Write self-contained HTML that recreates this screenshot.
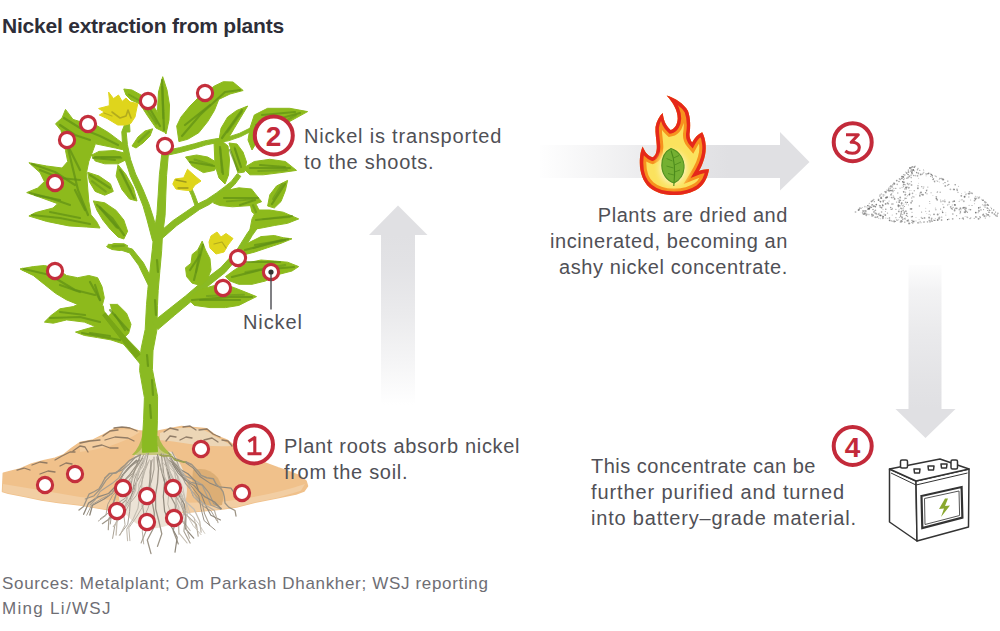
<!DOCTYPE html>
<html><head><meta charset="utf-8">
<style>
html,body{margin:0;padding:0;background:#fff;}
body{width:1000px;height:631px;position:relative;overflow:hidden;font-family:"Liberation Sans",sans-serif;}
.t{position:absolute;white-space:nowrap;color:#505056;font-size:20px;letter-spacing:0.5px;line-height:26px;}
#title{position:absolute;left:2px;top:14px;font-weight:bold;font-size:21px;letter-spacing:-0.22px;color:#2e2e38;white-space:nowrap;}
#src{position:absolute;left:2px;top:571px;font-size:17px;letter-spacing:0.6px;line-height:25px;color:#6e6e74;white-space:nowrap;}
svg{position:absolute;left:0;top:0;}
</style></head><body>
<svg width="1000" height="631" viewBox="0 0 1000 631">
<defs>
 <filter id="soft" x="-5%" y="-5%" width="110%" height="110%"><feGaussianBlur stdDeviation="0.45"/></filter>
 <linearGradient id="gup" x1="0" y1="1" x2="0" y2="0">
  <stop offset="0" stop-color="#e0e0e3" stop-opacity="0"/>
  <stop offset="0.2" stop-color="#e0e0e3" stop-opacity="0.3"/>
  <stop offset="0.45" stop-color="#e0e0e3" stop-opacity="0.65"/>
  <stop offset="0.7" stop-color="#e0e0e3" stop-opacity="0.92"/>
  <stop offset="0.85" stop-color="#e0e0e3" stop-opacity="1"/>
 </linearGradient>
 <linearGradient id="gright" x1="0" y1="0" x2="1" y2="0">
  <stop offset="0" stop-color="#e0e0e3" stop-opacity="0.03"/>
  <stop offset="0.25" stop-color="#e0e0e3" stop-opacity="0.4"/>
  <stop offset="0.5" stop-color="#e0e0e3" stop-opacity="0.8"/>
  <stop offset="0.7" stop-color="#e0e0e3" stop-opacity="1"/>
 </linearGradient>
 <linearGradient id="gdown" x1="0" y1="0" x2="0" y2="1">
  <stop offset="0" stop-color="#e0e0e3" stop-opacity="0.05"/>
  <stop offset="0.15" stop-color="#e0e0e3" stop-opacity="0.4"/>
  <stop offset="0.4" stop-color="#e0e0e3" stop-opacity="0.68"/>
  <stop offset="0.7" stop-color="#e0e0e3" stop-opacity="0.92"/>
  <stop offset="0.83" stop-color="#e0e0e3" stop-opacity="1"/>
 </linearGradient>
</defs>
<!-- up arrow -->
<path d="M381,405 L381,235 L369,235 L398,205.5 L427.5,235 L415,235 L415,405 Z" fill="url(#gup)"/>
<!-- right arrow -->
<path d="M540,145 L780,145 L780,132 L809.5,162 L780,190.5 L780,178 L540,178 Z" fill="url(#gright)"/>
<!-- down arrow -->
<path d="M908.5,265 L941.5,265 L941.5,409 L955.5,409 L925.5,438 L895.5,409 L908.5,409 Z" fill="url(#gdown)"/>

<!-- soil -->
<g id="soil" filter="url(#soft)">
<path d="M2.5,491.6 L3.3,473.3 L10,471.6 L20,469 L31.6,464 L43.3,460.8 L55,458.3 L63.3,455 L71.6,448.3 L80,442.5 L93.2,440 L103.2,435 L114.9,428.3 L126.5,427.5 L138.2,430.8 L150,432 L158.4,431 L169.9,428.8 L181.4,426.5 L192.8,427.6 L206.6,428.8 L215.8,435.7 L227.3,440.3 L240,450 L259.5,461 L277.8,467.8 L290,472 L300,476 L306,481 L307.5,486 L304,491 L296,494 L277.8,497.7 L254.9,502.3 L236.5,506.9 L220.4,509.2 L190,512 L150,514 L110,510 L80,505 L71.6,504 L58.3,502.4 L41.6,500 L25,496.6 L8.3,493.2Z" fill="#f0c18b" stroke="#f0c18b" stroke-width="1.5" stroke-linejoin="round"/>
<path d="M3,484 Q40,490 80,497 Q150,505 220,502 Q270,496 305,484 L300.8,490.8 L277.8,497.7 L254.9,502.3 L236.5,506.9 L220.4,509.2 L190,512 L150,514 L110,510 L80,505 L58.3,502.4 L41.6,500 L25,496.6 L8.3,493.2 L2.5,491.6Z" fill="#f2cea3"/>
<path d="M160,433 Q175,427 190,428 Q205,428 214,436 Q225,441 232,446 Q210,447 190,444 Q172,441 160,440Z" fill="#ecd6b6"/>
<path d="M80,444 Q100,438 115,430 Q130,428 140,432 Q128,440 110,446 Q95,450 80,452Z" fill="#f3cd9f"/>
<path d="M193,470 Q208,466 218,478 Q226,492 222,505 Q210,508 198,502 Q190,490 193,470Z" fill="#dcae74"/>
<path d="M17,470 L24,468 L30,470" fill="none" stroke="#806d5a" stroke-width="1.3" stroke-linecap="round" stroke-linejoin="round" opacity="0.85"/>
<path d="M32,465 L40,462 L47,463" fill="none" stroke="#806d5a" stroke-width="1.3" stroke-linecap="round" stroke-linejoin="round" opacity="0.85"/>
<path d="M55,460 L62,456 L70,452 L75,452" fill="none" stroke="#806d5a" stroke-width="1.3" stroke-linecap="round" stroke-linejoin="round" opacity="0.85"/>
<path d="M73,451 L80,446 L85,447 L88,452" fill="none" stroke="#806d5a" stroke-width="1.3" stroke-linecap="round" stroke-linejoin="round" opacity="0.85"/>
<path d="M80,443 L90,441 L100,440" fill="none" stroke="#806d5a" stroke-width="1.3" stroke-linecap="round" stroke-linejoin="round" opacity="0.85"/>
<path d="M93,447 L102,445 L110,448 L118,448" fill="none" stroke="#806d5a" stroke-width="1.3" stroke-linecap="round" stroke-linejoin="round" opacity="0.85"/>
<path d="M103,436 L110,431 L118,430" fill="none" stroke="#806d5a" stroke-width="1.3" stroke-linecap="round" stroke-linejoin="round" opacity="0.85"/>
<path d="M114,428 L122,427 L130,428 L137,431" fill="none" stroke="#806d5a" stroke-width="1.3" stroke-linecap="round" stroke-linejoin="round" opacity="0.85"/>
<path d="M105,440 L115,437 L128,438 L134,441" fill="none" stroke="#806d5a" stroke-width="1.3" stroke-linecap="round" stroke-linejoin="round" opacity="0.85"/>
<path d="M164,432 L170,428 L178,430" fill="none" stroke="#806d5a" stroke-width="1.3" stroke-linecap="round" stroke-linejoin="round" opacity="0.85"/>
<path d="M183,427 L190,426 L196,430" fill="none" stroke="#806d5a" stroke-width="1.3" stroke-linecap="round" stroke-linejoin="round" opacity="0.85"/>
<path d="M199,430 L207,429 L213,434 L220,437" fill="none" stroke="#806d5a" stroke-width="1.3" stroke-linecap="round" stroke-linejoin="round" opacity="0.85"/>
<path d="M166,441 L170,436 L176,437" fill="none" stroke="#806d5a" stroke-width="1.3" stroke-linecap="round" stroke-linejoin="round" opacity="0.85"/>
<path d="M180,440 L186,437 L192,438" fill="none" stroke="#806d5a" stroke-width="1.3" stroke-linecap="round" stroke-linejoin="round" opacity="0.85"/>
<path d="M204,440 L212,438 L218,442" fill="none" stroke="#806d5a" stroke-width="1.3" stroke-linecap="round" stroke-linejoin="round" opacity="0.85"/>
<path d="M222,440 L228,441 L232,446" fill="none" stroke="#806d5a" stroke-width="1.3" stroke-linecap="round" stroke-linejoin="round" opacity="0.85"/>
<path d="M40,474 L48,471 L55,472" fill="none" stroke="#806d5a" stroke-width="1.3" stroke-linecap="round" stroke-linejoin="round" opacity="0.85"/>
<path d="M60,466 L66,463 L72,464" fill="none" stroke="#806d5a" stroke-width="1.3" stroke-linecap="round" stroke-linejoin="round" opacity="0.85"/>
<path d="M138,452 Q155,448 172,452 Q186,468 187,490 Q186,510 176,522 Q160,530 146,528 Q128,522 120,505 Q116,485 124,468Z" fill="#ece3d6"/>
<path d="M142,436 L158.5,436 Q161,446 172,455 L132,455 Q140,447 142,436Z" fill="#a9bb45"/>
<path d="M134,455 L170,455 Q160,452 158,446 L143,446 Q140,452 134,455Z" fill="#c8c77e"/>
<path d="M140.6,454.6 L136.8,464.8 L129.7,474.6 L122.6,482.3 L116.8,492.1 L113.5,503.4 L112.7,516.4 L102.4,523.7" fill="none" stroke="#9c9487" stroke-width="1.2" stroke-linecap="round" stroke-linejoin="round"/>
<path d="M169.6,458.0 L175.0,466.8 L182.1,474.6 L191.4,478.6 L201.9,484.6 L206.3,494.2 L211.0,505.2 L221.0,509.1" fill="none" stroke="#a8a093" stroke-width="1.2" stroke-linecap="round" stroke-linejoin="round"/>
<path d="M139.4,459.9 L130.2,466.4 L123.0,474.9 L116.6,485.2 L108.6,493.5 L98.1,496.9 L88.6,503.1 L83.6,514.3" fill="none" stroke="#8e877b" stroke-width="1.3" stroke-linecap="round" stroke-linejoin="round"/>
<path d="M172.1,452.0 L177.4,462.4 L181.2,474.1 L185.6,483.7 L194.5,494.0 L202.1,502.7 L204.5,513.6 L209.7,525.2" fill="none" stroke="#a8a093" stroke-width="1.1" stroke-linecap="round" stroke-linejoin="round"/>
<path d="M136.5,460.2 L128.4,468.0 L122.7,474.9 L118.2,484.5 L112.1,493.2 L104.2,499.0 L92.5,505.2 L89.8,515.0" fill="none" stroke="#8e877b" stroke-width="1.3" stroke-linecap="round" stroke-linejoin="round"/>
<path d="M164.3,455.1 L169.4,467.3 L177.9,475.8 L182.9,488.1 L185.3,499.7 L190.1,513.6 L198.4,523.4 L204.8,533.4" fill="none" stroke="#c4bdb1" stroke-width="0.8" stroke-linecap="round" stroke-linejoin="round"/>
<path d="M170.7,461.3 L177.2,468.5 L183.2,477.0 L191.1,482.4 L202.7,485.1 L209.1,493.2 L213.6,503.4 L221.5,508.5" fill="none" stroke="#9c9487" stroke-width="1.1" stroke-linecap="round" stroke-linejoin="round"/>
<path d="M146.6,453.6 L140.9,465.8 L137.3,477.6 L134.1,490.6 L127.9,501.8 L119.6,513.0 L114.7,526.2 L112.6,538.4" fill="none" stroke="#a8a093" stroke-width="1.0" stroke-linecap="round" stroke-linejoin="round"/>
<path d="M142.7,458.1 L136.1,466.6 L132.4,477.3 L130.2,489.1 L126.2,499.9 L116.6,508.6 L108.9,518.3 L108.3,529.6" fill="none" stroke="#a8a093" stroke-width="1.2" stroke-linecap="round" stroke-linejoin="round"/>
<path d="M148.3,453.2 L145.6,465.5 L139.6,476.8 L133.9,486.7 L130.4,499.0 L129.6,511.6 L127.7,524.4 L119.5,535.0" fill="none" stroke="#8e877b" stroke-width="0.8" stroke-linecap="round" stroke-linejoin="round"/>
<path d="M172.3,463.7 L178.0,472.9 L185.3,480.3 L194.4,485.9 L201.1,493.9 L205.4,505.0 L210.9,515.3 L220.5,520.0" fill="none" stroke="#8e877b" stroke-width="1.1" stroke-linecap="round" stroke-linejoin="round"/>
<path d="M152.4,459.6 L149.6,471.7 L150.5,483.7 L151.7,496.2 L148.1,508.0 L143.2,519.0 L142.3,531.6 L143.7,543.9" fill="none" stroke="#a8a093" stroke-width="0.8" stroke-linecap="round" stroke-linejoin="round"/>
<path d="M147.3,462.9 L143.4,472.6 L141.8,483.6 L136.4,495.4 L129.8,503.4 L123.7,514.5 L125.1,524.9 L119.8,535.5" fill="none" stroke="#b6aea1" stroke-width="1.0" stroke-linecap="round" stroke-linejoin="round"/>
<path d="M145.8,463.4 L142.6,474.9 L138.7,484.5 L139.4,497.2 L138.0,508.1 L133.3,518.7 L126.7,529.1 L127.6,540.6" fill="none" stroke="#c4bdb1" stroke-width="1.1" stroke-linecap="round" stroke-linejoin="round"/>
<path d="M165.8,454.6 L168.2,464.9 L170.8,476.0 L177.2,487.3 L182.4,495.9 L184.2,507.7 L182.6,520.7 L190.1,530.5" fill="none" stroke="#c4bdb1" stroke-width="1.2" stroke-linecap="round" stroke-linejoin="round"/>
<path d="M173.1,461.9 L179.9,469.2 L187.9,473.7 L195.2,481.1 L198.6,490.9 L205.1,496.9 L214.6,502.0 L220.8,508.7" fill="none" stroke="#8e877b" stroke-width="1.3" stroke-linecap="round" stroke-linejoin="round"/>
<path d="M174.6,458.3 L185.1,462.2 L193.0,467.9 L200.3,476.8 L209.5,482.9 L218.5,486.7 L231.0,488.1 L237.4,497.9" fill="none" stroke="#8e877b" stroke-width="1.1" stroke-linecap="round" stroke-linejoin="round"/>
<path d="M144.6,460.2 L139.0,468.5 L134.8,478.9 L132.9,488.9 L125.6,498.0 L117.1,503.5 L111.6,513.1 L110.3,524.0" fill="none" stroke="#9c9487" stroke-width="0.9" stroke-linecap="round" stroke-linejoin="round"/>
<path d="M161.3,453.9 L162.8,466.5 L164.5,480.9 L169.0,493.3 L175.2,504.6 L175.9,518.8 L173.2,530.8 L178.3,544.0" fill="none" stroke="#9c9487" stroke-width="1.2" stroke-linecap="round" stroke-linejoin="round"/>
<path d="M149.4,459.8 L145.0,470.8 L141.7,482.5 L142.1,494.7 L142.0,507.7 L136.4,517.1 L128.8,527.9 L129.9,540.7" fill="none" stroke="#b6aea1" stroke-width="0.9" stroke-linecap="round" stroke-linejoin="round"/>
<path d="M166.0,462.9 L168.8,474.8 L172.0,485.0 L179.2,495.6 L184.4,504.2 L185.9,517.0 L185.6,528.9 L193.7,538.2" fill="none" stroke="#8e877b" stroke-width="1.2" stroke-linecap="round" stroke-linejoin="round"/>
<path d="M143.7,454.7 L139.0,464.0 L132.6,473.6 L123.8,481.3 L117.2,490.8 L113.7,501.0 L109.2,512.4 L100.4,518.7" fill="none" stroke="#9c9487" stroke-width="0.9" stroke-linecap="round" stroke-linejoin="round"/>
<path d="M157.5,454.7 L160.8,468.1 L164.6,482.3 L163.3,496.5 L164.6,511.2 L170.5,525.0 L177.2,537.2 L175.0,552.1" fill="none" stroke="#8e877b" stroke-width="1.2" stroke-linecap="round" stroke-linejoin="round"/>
<path d="M146.5,454.4 L140.0,465.5 L136.9,478.0 L135.5,490.2 L130.6,500.6 L122.0,511.1 L117.0,521.4 L116.1,535.0" fill="none" stroke="#c4bdb1" stroke-width="1.3" stroke-linecap="round" stroke-linejoin="round"/>
<path d="M162.9,454.3 L167.0,465.6 L173.0,477.9 L176.3,490.7 L176.0,503.2 L178.3,515.5 L185.6,526.2 L189.6,538.3" fill="none" stroke="#b6aea1" stroke-width="1.0" stroke-linecap="round" stroke-linejoin="round"/>
<path d="M135.1,457.3 L129.1,464.2 L121.7,470.1 L112.7,473.6 L106.2,480.2 L100.8,488.3 L94.1,495.7 L85.3,499.0" fill="none" stroke="#9c9487" stroke-width="1.2" stroke-linecap="round" stroke-linejoin="round"/>
<path d="M163.6,454.4 L166.3,466.5 L169.0,479.7 L174.1,493.2 L181.0,504.7 L185.3,516.1 L183.9,531.2 L190.1,543.1" fill="none" stroke="#a8a093" stroke-width="1.1" stroke-linecap="round" stroke-linejoin="round"/>
<path d="M140.2,458.2 L132.0,465.6 L124.4,473.1 L118.4,482.6 L111.9,493.7 L102.3,498.3 L91.7,504.8 L86.7,515.2" fill="none" stroke="#a8a093" stroke-width="1.0" stroke-linecap="round" stroke-linejoin="round"/>
<path d="M146.1,455.5 L142.5,466.8 L135.0,475.0 L128.6,484.4 L127.5,496.4 L125.2,507.3 L119.9,518.0 L113.3,526.6" fill="none" stroke="#c4bdb1" stroke-width="1.2" stroke-linecap="round" stroke-linejoin="round"/>
<path d="M154.0,457.1 L154.0,469.4 L151.3,481.9 L146.6,493.3 L142.7,506.5 L144.5,517.8 L146.1,530.8 L141.1,543.0" fill="none" stroke="#a8a093" stroke-width="1.1" stroke-linecap="round" stroke-linejoin="round"/>
<path d="M168.8,459.8 L176.9,467.4 L184.8,476.5 L189.2,485.3 L193.1,496.2 L201.7,505.2 L211.2,511.1 L216.8,520.6" fill="none" stroke="#9c9487" stroke-width="0.9" stroke-linecap="round" stroke-linejoin="round"/>
<path d="M161.4,460.6 L168.1,469.1 L173.1,479.0 L175.9,488.9 L178.9,500.7 L184.6,510.1 L194.2,517.6 L196.0,527.7" fill="none" stroke="#c4bdb1" stroke-width="1.0" stroke-linecap="round" stroke-linejoin="round"/>
<path d="M170.0,458.2 L178.3,466.1 L184.6,475.1 L189.2,485.3 L193.9,496.9 L203.9,504.0 L214.4,510.4 L218.0,522.6" fill="none" stroke="#b6aea1" stroke-width="1.2" stroke-linecap="round" stroke-linejoin="round"/>
<path d="M157.0,457.0 L158.5,468.7 L157.5,483.1 L155.5,495.2 L155.7,508.8 L158.7,520.5 L161.8,533.9 L157.5,546.4" fill="none" stroke="#9c9487" stroke-width="1.3" stroke-linecap="round" stroke-linejoin="round"/>
<path d="M158.9,461.5 L161.6,471.5 L166.4,480.8 L168.9,491.9 L167.8,504.1 L171.1,515.1 L178.1,522.9 L178.9,534.5" fill="none" stroke="#b6aea1" stroke-width="0.8" stroke-linecap="round" stroke-linejoin="round"/>
<path d="M165.4,455.0 L171.6,465.8 L177.7,476.4 L179.1,489.3 L181.7,503.2 L186.2,514.7 L196.4,524.4 L198.2,536.2" fill="none" stroke="#b6aea1" stroke-width="1.2" stroke-linecap="round" stroke-linejoin="round"/>
<path d="M151.0,460.6 L150.8,473.1 L149.1,487.2 L151.7,499.8 L154.3,513.0 L153.8,527.5 L147.3,540.0 L151.0,553.6" fill="none" stroke="#9c9487" stroke-width="1.3" stroke-linecap="round" stroke-linejoin="round"/>
<path d="M137.3,463.4 L133.7,473.1 L128.6,481.1 L119.8,488.0 L112.5,495.4 L107.7,504.5 L105.9,515.5 L98.3,521.1" fill="none" stroke="#9c9487" stroke-width="0.8" stroke-linecap="round" stroke-linejoin="round"/>
<path d="M161.7,460.9 L162.7,472.6 L167.9,484.2 L174.5,496.1 L178.9,507.1 L178.7,520.5 L178.9,532.8 L187.1,543.0" fill="none" stroke="#c4bdb1" stroke-width="1.1" stroke-linecap="round" stroke-linejoin="round"/>
<path d="M166.7,463.1 L170.6,474.8 L177.0,483.9 L183.3,493.3 L186.4,504.2 L187.5,515.9 L193.2,525.7 L201.1,534.7" fill="none" stroke="#c4bdb1" stroke-width="0.9" stroke-linecap="round" stroke-linejoin="round"/>
<path d="M168.7,452.8 L174.3,464.7 L181.6,475.7 L190.6,485.2 L198.8,496.0 L201.0,508.6 L204.1,520.6 L215.2,530.0" fill="none" stroke="#8e877b" stroke-width="0.9" stroke-linecap="round" stroke-linejoin="round"/>
<path d="M167.0,459.9 L174.0,469.5 L176.4,481.6 L178.1,491.8 L185.2,501.3 L194.1,509.3 L199.7,521.3 L201.1,532.2" fill="none" stroke="#c4bdb1" stroke-width="1.3" stroke-linecap="round" stroke-linejoin="round"/>
<path d="M160.0,455.0 L163.0,456.0 L168.2,455.7 L171.9,456.4 L174.9,459.9 L178.5,460.8 L183.1,462.1 L186.0,462.0" fill="none" stroke="#9aa04e" stroke-width="1.6" stroke-linecap="round" stroke-linejoin="round"/>
<path d="M186.0,462.0 L191.6,464.5 L194.4,467.4 L198.9,472.1 L201.1,475.4 L206.8,477.8 L213.4,478.8 L216.0,484.0" fill="none" stroke="#9c9384" stroke-width="1.5" stroke-linecap="round" stroke-linejoin="round"/>
<path d="M216.0,484.0 L220.4,487.9 L223.1,491.9 L224.4,497.2 L225.0,503.0 L228.7,507.1 L235.0,510.5 L236.0,516.0" fill="none" stroke="#9c9384" stroke-width="1.3" stroke-linecap="round" stroke-linejoin="round"/>
<path d="M140.0,455.0 L135.0,457.5 L129.7,460.3 L125.0,465.1 L120.7,468.7 L115.8,473.1 L109.4,473.6 L105.0,478.0" fill="none" stroke="#9c9384" stroke-width="1.5" stroke-linecap="round" stroke-linejoin="round"/>
<path d="M105.0,478.0 L102.1,483.6 L99.1,488.7 L94.4,491.5 L89.0,494.2 L86.2,500.6 L83.6,506.5 L79.0,510.0" fill="none" stroke="#9c9384" stroke-width="1.3" stroke-linecap="round" stroke-linejoin="round"/>
<path d="M128.0,465.0 L123.0,470.5 L118.6,478.1 L113.1,482.7 L105.2,488.0 L100.1,491.5 L95.1,499.9 L90.0,505.0" fill="none" stroke="#a8a093" stroke-width="1.1" stroke-linecap="round" stroke-linejoin="round"/>
</g>
<!-- plant -->
<g id="plant" filter="url(#soft)">
<path d="M157.5,451.7 L156.7,441.1 L157.4,420.2 L157.6,396.4 L152.4,369.5 L153.0,350.8 L156.8,330.6 L157.5,305.3 L158.2,290.4 L159.9,270.5 L161.7,250.4 L162.4,236.5 L165.1,215.4 L165.8,195.2 L166.6,175.3 L168.3,155.2 L168.0,140.0 L162.0,140.0 L161.7,154.8 L159.4,174.7 L158.2,194.8 L156.9,214.6 L153.6,235.5 L152.3,249.6 L150.1,269.5 L147.8,289.6 L146.5,304.7 L145.2,329.4 L141.0,349.2 L139.6,370.5 L144.4,397.6 L143.6,419.8 L142.3,440.9 L142.5,452.3Z" fill="#8aba22" stroke="#8aba22" stroke-width="1" stroke-linejoin="round" />
<path d="M150.0,363.4 L137.7,349.6 L126.3,337.9 L112.0,323.1 L96.5,308.3 L76.0,292.4 L45.6,276.7 L22.4,268.1 L21.6,269.9 L44.4,279.3 L74.0,295.6 L93.5,311.7 L108.0,326.9 L121.7,342.1 L132.3,354.4 L144.0,368.6Z" fill="#8aba22" stroke="#8aba22" stroke-width="1" stroke-linejoin="round" />
<path d="M153.7,282.7 L143.3,262.6 L132.4,249.1 L118.4,245.0 L108.2,244.3 L107.8,247.7 L117.6,249.0 L129.6,252.9 L138.7,265.4 L148.3,285.3Z" fill="#8aba22" stroke="#8aba22" stroke-width="1" stroke-linejoin="round" />
<path d="M159.4,239.1 L153.2,217.1 L148.9,203.9 L142.7,188.8 L135.6,174.0 L130.5,159.3 L127.4,144.7 L126.2,132.2 L128.9,124.7 L125.1,123.3 L121.8,131.8 L122.6,145.3 L125.5,160.7 L130.4,176.0 L137.3,191.2 L143.1,206.1 L146.8,218.9 L152.6,240.9Z" fill="#8aba22" stroke="#8aba22" stroke-width="1" stroke-linejoin="round" />
<path d="M162.1,238.5 L176.9,225.5 L189.7,216.5 L199.5,209.5 L209.4,204.4 L219.5,197.1 L227.6,191.0 L234.7,184.6 L240.8,176.3 L237.2,173.7 L231.3,181.4 L224.4,187.0 L216.5,192.9 L206.6,199.6 L196.5,204.5 L186.3,211.5 L173.1,220.5 L157.9,233.5Z" fill="#8aba22" stroke="#8aba22" stroke-width="1" stroke-linejoin="round" />
<path d="M198.6,205.4 L194.5,194.4 L190.4,185.4 L187.6,186.6 L191.5,195.6 L195.4,206.6Z" fill="#8aba22" stroke="#8aba22" stroke-width="1" stroke-linejoin="round" />
<path d="M166.5,155.4 L180.6,152.3 L195.6,148.2 L205.5,145.1 L215.3,143.0 L228.4,140.8 L240.7,136.6 L252.7,130.5 L258.7,127.3 L257.3,124.7 L251.3,127.5 L239.3,133.4 L227.6,137.2 L214.7,139.0 L204.5,140.9 L194.4,143.8 L179.4,147.7 L165.5,150.6Z" fill="#8aba22" stroke="#8aba22" stroke-width="1" stroke-linejoin="round" />
<path d="M157.9,329.5 L174.7,315.2 L190.5,302.0 L207.3,286.7 L225.2,272.4 L241.3,253.8 L252.2,235.5 L260.8,223.4 L267.6,214.2 L264.4,211.8 L257.2,220.6 L247.8,232.5 L236.7,250.2 L220.8,267.6 L202.7,281.3 L185.5,296.0 L169.3,308.8 L152.1,322.5Z" fill="#8aba22" stroke="#8aba22" stroke-width="1" stroke-linejoin="round" />
<path d="M65.5,109.4 L73.0,119.4 L80.0,121.6 L88.0,118.0 L97.6,126.0 L108.7,132.7 L117.6,139.4 L126.5,146.0 L124.0,150.0 L115.4,148.0 L95.4,143.8 L93.0,150.5 L88.8,161.5 L86.5,172.6 L87.7,188.0 L88.8,201.5 L91.0,214.8 L96.5,221.4 L100.0,228.0 L86.5,227.0 L68.8,225.9 L46.6,221.4 L28.9,216.0 L35.5,212.6 L53.0,208.0 L57.7,203.7 L42.0,198.0 L26.7,192.6 L37.7,188.0 L44.4,181.5 L40.0,172.6 L28.9,162.7 L46.6,166.0 L62.0,168.0 L67.7,161.5 L65.5,150.5 L63.0,139.0 L61.0,130.5 L55.5,123.8 L62.0,118.0Z" fill="#8dba1e" stroke="#8dba1e" stroke-width="1" stroke-linejoin="round" />
<path d="M123.8,89.0 L132.0,90.0 L141.0,95.0 L146.0,101.0 L140.0,104.0 L131.0,100.0 L126.0,95.0Z" fill="#8dba1e" stroke="#8dba1e" stroke-width="1" stroke-linejoin="round" />
<path d="M162.7,76.7 L167.0,90.0 L169.5,105.0 L169.0,120.0 L166.0,134.0 L160.0,126.0 L157.5,110.0 L158.5,92.0Z" fill="#8dba1e" stroke="#8dba1e" stroke-width="1" stroke-linejoin="round" />
<path d="M142.0,98.0 L152.0,104.0 L160.0,116.0 L164.0,132.0 L156.0,128.0 L147.0,115.0 L140.0,104.0Z" fill="#8dba1e" stroke="#8dba1e" stroke-width="1" stroke-linejoin="round" />
<path d="M132.0,146.0 L138.0,137.0 L145.0,131.0 L152.7,128.8 L150.0,136.0 L143.0,143.0 L136.0,148.0Z" fill="#8dba1e" stroke="#8dba1e" stroke-width="1" stroke-linejoin="round" />
<path d="M91.4,155.2 L99.0,151.4 L114.2,150.5 L125.7,153.3 L127.6,159.0 L118.0,163.8 L104.7,163.8 L95.2,161.0Z" fill="#8dba1e" stroke="#8dba1e" stroke-width="1" stroke-linejoin="round" />
<path d="M118.0,164.7 L125.7,174.2 L133.3,187.6 L137.0,201.0 L129.5,199.0 L121.9,189.5 L116.1,176.0Z" fill="#8dba1e" stroke="#8dba1e" stroke-width="1" stroke-linejoin="round" />
<path d="M87.6,172.3 L99.0,176.0 L110.4,183.8 L113.3,191.4 L104.7,195.2 L95.2,191.4 L89.5,181.9Z" fill="#8dba1e" stroke="#8dba1e" stroke-width="1" stroke-linejoin="round" />
<path d="M93.3,200.9 L104.7,202.8 L116.1,210.4 L123.8,220.0 L127.6,231.3 L123.8,239.0 L118.0,237.0 L110.4,229.4 L102.8,220.0 L97.0,210.4Z" fill="#8dba1e" stroke="#8dba1e" stroke-width="1" stroke-linejoin="round" />
<path d="M106.5,246.4 L114.0,243.5 L124.0,243.8 L128.0,246.0 L120.0,250.6 L112.0,249.5Z" fill="#8dba1e" stroke="#8dba1e" stroke-width="1" stroke-linejoin="round" />
<path d="M178.9,141.6 L176.7,126.0 L181.0,117.0 L190.0,106.0 L198.8,97.2 L205.5,92.7 L214.4,86.0 L223.3,81.7 L233.0,82.0 L243.2,90.5 L230.0,94.0 L218.8,99.4 L214.4,110.5 L207.7,121.6 L198.8,132.7 L187.7,139.3Z" fill="#8dba1e" stroke="#8dba1e" stroke-width="1" stroke-linejoin="round" />
<path d="M218.8,141.6 L221.0,128.3 L227.7,117.0 L236.6,110.5 L247.7,106.0 L241.0,117.0 L234.3,128.3 L227.7,139.3Z" fill="#8dba1e" stroke="#8dba1e" stroke-width="1" stroke-linejoin="round" />
<path d="M250.0,128.0 L254.3,115.0 L267.6,108.3 L289.8,108.3 L307.6,111.6 L296.0,118.0 L285.0,124.0 L270.0,132.0 L258.0,140.0 L252.0,150.0 L248.0,140.0Z" fill="#8dba1e" stroke="#8dba1e" stroke-width="1" stroke-linejoin="round" />
<path d="M214.0,141.6 L222.0,141.0 L228.0,146.0 L229.5,160.0 L228.5,175.0 L225.0,184.0 L219.0,178.0 L215.0,165.0Z" fill="#8dba1e" stroke="#8dba1e" stroke-width="1" stroke-linejoin="round" />
<path d="M229.0,143.0 L237.0,144.0 L243.0,152.0 L246.5,162.0 L244.5,172.0 L238.0,173.0 L234.0,160.0Z" fill="#8dba1e" stroke="#8dba1e" stroke-width="1" stroke-linejoin="round" />
<path d="M185.5,157.0 L196.6,155.0 L207.7,157.0 L218.8,163.7 L214.4,170.4 L203.3,172.6 L192.2,166.0Z" fill="#8dba1e" stroke="#8dba1e" stroke-width="1" stroke-linejoin="round" />
<path d="M243.2,168.2 L254.3,161.5 L269.8,159.3 L285.4,161.5 L296.5,170.4 L281.0,172.6 L263.2,174.8 L249.9,174.8Z" fill="#8dba1e" stroke="#8dba1e" stroke-width="1" stroke-linejoin="round" />
<path d="M213.4,203.0 L221.0,191.6 L238.8,187.8 L251.5,189.0 L261.6,201.7 L251.5,205.5 L232.5,206.8 L219.8,205.5Z" fill="#8dba1e" stroke="#8dba1e" stroke-width="1" stroke-linejoin="round" />
<path d="M267.6,206.0 L269.8,194.8 L276.5,186.0 L287.6,180.4 L285.4,190.4 L281.0,201.5 L274.3,208.0Z" fill="#8dba1e" stroke="#8dba1e" stroke-width="1" stroke-linejoin="round" />
<path d="M250.0,203.7 L256.0,204.0 L259.0,210.0 L257.0,216.0 L252.0,212.0Z" fill="#8dba1e" stroke="#8dba1e" stroke-width="1" stroke-linejoin="round" />
<path d="M249.9,230.0 L252.0,218.9 L256.5,210.0 L269.8,210.0 L283.2,212.2 L298.7,218.9 L287.6,223.3 L274.3,225.5 L263.2,227.7Z" fill="#8dba1e" stroke="#8dba1e" stroke-width="1" stroke-linejoin="round" />
<path d="M238.8,252.2 L247.6,243.3 L261.0,236.6 L274.3,235.5 L283.2,237.7 L292.0,238.8 L281.0,243.3 L267.6,247.7 L254.3,252.2 L245.4,254.4Z" fill="#8dba1e" stroke="#8dba1e" stroke-width="1" stroke-linejoin="round" />
<path d="M225.5,276.6 L234.3,270.0 L245.4,263.3 L261.0,260.0 L274.3,261.0 L287.6,262.2 L298.7,266.6 L292.0,271.0 L278.7,274.4 L265.4,281.0 L252.0,284.3 L238.8,284.3 L230.0,281.0Z" fill="#8dba1e" stroke="#8dba1e" stroke-width="1" stroke-linejoin="round" />
<path d="M187.7,298.8 L198.8,289.9 L214.4,285.5 L224.0,284.0 L234.3,287.7 L245.4,292.1 L256.5,296.6 L247.6,301.0 L238.8,305.4 L225.5,307.6 L210.0,307.6 L194.4,305.4Z" fill="#8dba1e" stroke="#8dba1e" stroke-width="1" stroke-linejoin="round" />
<path d="M186.6,276.6 L185.5,267.7 L191.0,263.3 L192.2,254.4 L197.7,250.0 L202.2,241.1 L205.5,250.0 L210.0,258.8 L211.0,270.0 L207.7,278.8 L201.0,285.5 L192.2,283.2Z" fill="#8dba1e" stroke="#8dba1e" stroke-width="1" stroke-linejoin="round" />
<path d="M20.0,268.9 L33.3,266.6 L44.4,265.5 L55.5,268.0 L66.6,275.5 L77.7,277.7 L88.8,275.5 L97.6,277.7 L102.0,286.6 L104.3,297.7 L102.0,306.6 L108.7,304.4 L117.6,304.4 L126.5,313.2 L131.0,324.3 L128.7,333.2 L124.3,337.6 L124.3,344.3 L111.0,339.9 L97.6,337.6 L84.3,335.4 L75.5,332.1 L86.6,328.8 L95.4,326.5 L84.3,322.1 L66.6,319.9 L53.3,323.2 L44.4,322.1 L51.0,315.5 L60.0,308.8 L73.2,306.6 L77.7,304.4 L66.6,299.9 L55.5,293.3 L44.4,284.4 L33.3,275.5Z" fill="#8dba1e" stroke="#8dba1e" stroke-width="1" stroke-linejoin="round" />
<path d="M103.5,304 L109.5,303.5 L112,312 L108,316 L104.5,311Z" fill="#fff"/>
<path d="M102.6,315.1 L110.4,325.2 L118.2,335.4 L126.1,345.6 L135.9,357.8 L140.1,354.2 L129.9,342.4 L121.8,332.6 L113.6,322.8 L105.4,312.9Z" fill="#78a619" stroke="#78a619" stroke-width="1" stroke-linejoin="round" />
<path d="M140.7,101.2 L128.8,94.5" fill="none" stroke="#5f9016" stroke-width="1.9595430399761427" stroke-linecap="round" stroke-linejoin="round" opacity="0.5"/>
<path d="M162.3,87.0 L163.3,118.0" fill="none" stroke="#5f9016" stroke-width="2.3190306964509446" stroke-linecap="round" stroke-linejoin="round" opacity="0.5"/>
<path d="M144.3,105.2 L156.3,123.5" fill="none" stroke="#5f9016" stroke-width="2.138761739100935" stroke-linecap="round" stroke-linejoin="round" opacity="0.5"/>
<path d="M148.9,131.8 L138.5,141.9" fill="none" stroke="#5f9016" stroke-width="2.330451707142214" stroke-linecap="round" stroke-linejoin="round" opacity="0.5"/>
<path d="M121.1,157.9 L101.5,157.8" fill="none" stroke="#5f9016" stroke-width="2.4823875115186342" stroke-linecap="round" stroke-linejoin="round" opacity="0.5"/>
<path d="M121.4,171.2 L131.3,191.0" fill="none" stroke="#5f9016" stroke-width="1.6374830331124643" stroke-linecap="round" stroke-linejoin="round" opacity="0.5"/>
<path d="M105.8,191.7 L92.0,181.2" fill="none" stroke="#5f9016" stroke-width="2.099074767386168" stroke-linecap="round" stroke-linejoin="round" opacity="0.5"/>
<path d="M99.8,206.9 L116.6,227.2" fill="none" stroke="#5f9016" stroke-width="2.3144070008084854" stroke-linecap="round" stroke-linejoin="round" opacity="0.5"/>
<path d="M124.1,245.6 L112.5,246.4" fill="none" stroke="#5f9016" stroke-width="2.071049843927539" stroke-linecap="round" stroke-linejoin="round" opacity="0.5"/>
<path d="M241.7,111.8 L227.4,132.0" fill="none" stroke="#5f9016" stroke-width="2.2038507703691885" stroke-linecap="round" stroke-linejoin="round" opacity="0.5"/>
<path d="M295.8,115.3 L264.1,133.0" fill="none" stroke="#5f9016" stroke-width="2.2097559075697477" stroke-linecap="round" stroke-linejoin="round" opacity="0.5"/>
<path d="M220.1,148.9 L221.9,172.1" fill="none" stroke="#5f9016" stroke-width="2.103708484840346" stroke-linecap="round" stroke-linejoin="round" opacity="0.5"/>
<path d="M234.5,147.4 L239.8,164.0" fill="none" stroke="#5f9016" stroke-width="1.7424388417072665" stroke-linecap="round" stroke-linejoin="round" opacity="0.5"/>
<path d="M212.0,165.0 L194.6,159.6" fill="none" stroke="#5f9016" stroke-width="2.2287403389692266" stroke-linecap="round" stroke-linejoin="round" opacity="0.5"/>
<path d="M286.9,170.0 L258.2,170.9" fill="none" stroke="#5f9016" stroke-width="2.022507315419912" stroke-linecap="round" stroke-linejoin="round" opacity="0.5"/>
<path d="M252.7,199.4 L226.8,201.3" fill="none" stroke="#5f9016" stroke-width="1.8307068282403143" stroke-linecap="round" stroke-linejoin="round" opacity="0.5"/>
<path d="M282.4,184.0 L273.3,198.9" fill="none" stroke="#5f9016" stroke-width="2.4176604022196404" stroke-linecap="round" stroke-linejoin="round" opacity="0.5"/>
<path d="M253.0,205.2 L256.0,212.1" fill="none" stroke="#5f9016" stroke-width="2.151797118235894" stroke-linecap="round" stroke-linejoin="round" opacity="0.5"/>
<path d="M289.6,217.2 L263.0,219.3" fill="none" stroke="#5f9016" stroke-width="1.6285714108633718" stroke-linecap="round" stroke-linejoin="round" opacity="0.5"/>
<path d="M282.0,239.7 L253.6,248.1" fill="none" stroke="#5f9016" stroke-width="2.0601639079857224" stroke-linecap="round" stroke-linejoin="round" opacity="0.5"/>
<path d="M284.9,265.1 L245.7,272.2" fill="none" stroke="#5f9016" stroke-width="2.480538628041746" stroke-linecap="round" stroke-linejoin="round" opacity="0.5"/>
<path d="M244.0,294.7 L206.9,295.9" fill="none" stroke="#5f9016" stroke-width="1.9618002378007615" stroke-linecap="round" stroke-linejoin="round" opacity="0.5"/>
<path d="M199.6,248.7 L196.0,272.2" fill="none" stroke="#5f9016" stroke-width="1.9776110853728142" stroke-linecap="round" stroke-linejoin="round" opacity="0.5"/>
<path d="M64.0,118.0 L80.0,128.0 L100.0,136.0 L118.0,145.0" fill="none" stroke="#5f9016" stroke-width="2.2" stroke-linecap="round" stroke-linejoin="round" opacity="0.7"/>
<path d="M66.0,140.0 L72.0,165.0 L78.0,190.0 L88.0,215.0" fill="none" stroke="#5f9016" stroke-width="2.2" stroke-linecap="round" stroke-linejoin="round" opacity="0.7"/>
<path d="M32.0,164.0 L55.0,172.0 L75.0,185.0" fill="none" stroke="#5f9016" stroke-width="2.2" stroke-linecap="round" stroke-linejoin="round" opacity="0.7"/>
<path d="M30.0,193.0 L50.0,198.0 L70.0,205.0" fill="none" stroke="#5f9016" stroke-width="2.2" stroke-linecap="round" stroke-linejoin="round" opacity="0.7"/>
<path d="M32.0,215.0 L60.0,218.0 L90.0,224.0" fill="none" stroke="#5f9016" stroke-width="2.2" stroke-linecap="round" stroke-linejoin="round" opacity="0.7"/>
<path d="M95.0,157.0 L120.0,157.0" fill="none" stroke="#5f9016" stroke-width="2.2" stroke-linecap="round" stroke-linejoin="round" opacity="0.7"/>
<path d="M90.0,175.0 L110.0,188.0" fill="none" stroke="#5f9016" stroke-width="2.2" stroke-linecap="round" stroke-linejoin="round" opacity="0.7"/>
<path d="M97.0,205.0 L112.0,218.0 L124.0,235.0" fill="none" stroke="#5f9016" stroke-width="2.2" stroke-linecap="round" stroke-linejoin="round" opacity="0.7"/>
<path d="M120.0,170.0 L134.0,198.0" fill="none" stroke="#5f9016" stroke-width="2.2" stroke-linecap="round" stroke-linejoin="round" opacity="0.7"/>
<path d="M162.0,80.0 L164.0,130.0" fill="none" stroke="#5f9016" stroke-width="2.2" stroke-linecap="round" stroke-linejoin="round" opacity="0.7"/>
<path d="M146.0,102.0 L160.0,126.0" fill="none" stroke="#5f9016" stroke-width="2.2" stroke-linecap="round" stroke-linejoin="round" opacity="0.7"/>
<path d="M182.0,136.0 L200.0,115.0 L225.0,92.0 L240.0,90.0" fill="none" stroke="#5f9016" stroke-width="2.2" stroke-linecap="round" stroke-linejoin="round" opacity="0.7"/>
<path d="M222.0,138.0 L242.0,110.0" fill="none" stroke="#5f9016" stroke-width="2.2" stroke-linecap="round" stroke-linejoin="round" opacity="0.7"/>
<path d="M220.0,147.0 L223.0,174.0" fill="none" stroke="#5f9016" stroke-width="2.2" stroke-linecap="round" stroke-linejoin="round" opacity="0.7"/>
<path d="M235.0,149.0 L241.0,167.0" fill="none" stroke="#5f9016" stroke-width="2.2" stroke-linecap="round" stroke-linejoin="round" opacity="0.7"/>
<path d="M190.0,162.0 L214.0,166.0" fill="none" stroke="#5f9016" stroke-width="2.2" stroke-linecap="round" stroke-linejoin="round" opacity="0.7"/>
<path d="M250.0,168.0 L290.0,168.0" fill="none" stroke="#5f9016" stroke-width="2.2" stroke-linecap="round" stroke-linejoin="round" opacity="0.7"/>
<path d="M224.0,198.0 L258.0,198.0" fill="none" stroke="#5f9016" stroke-width="2.2" stroke-linecap="round" stroke-linejoin="round" opacity="0.7"/>
<path d="M272.0,204.0 L285.0,184.0" fill="none" stroke="#5f9016" stroke-width="2.2" stroke-linecap="round" stroke-linejoin="round" opacity="0.7"/>
<path d="M256.0,220.0 L292.0,216.0" fill="none" stroke="#5f9016" stroke-width="2.2" stroke-linecap="round" stroke-linejoin="round" opacity="0.7"/>
<path d="M245.0,250.0 L288.0,239.0" fill="none" stroke="#5f9016" stroke-width="2.2" stroke-linecap="round" stroke-linejoin="round" opacity="0.7"/>
<path d="M232.0,277.0 L260.0,270.0 L294.0,267.0" fill="none" stroke="#5f9016" stroke-width="2.2" stroke-linecap="round" stroke-linejoin="round" opacity="0.7"/>
<path d="M192.0,300.0 L230.0,297.0 L252.0,297.0" fill="none" stroke="#5f9016" stroke-width="2.2" stroke-linecap="round" stroke-linejoin="round" opacity="0.7"/>
<path d="M194.0,280.0 L203.0,245.0" fill="none" stroke="#5f9016" stroke-width="2.2" stroke-linecap="round" stroke-linejoin="round" opacity="0.7"/>
<path d="M24.0,269.0 L50.0,275.0 L75.0,290.0 L95.0,295.0" fill="none" stroke="#5f9016" stroke-width="2.2" stroke-linecap="round" stroke-linejoin="round" opacity="0.7"/>
<path d="M50.0,318.0 L80.0,317.0 L100.0,322.0" fill="none" stroke="#5f9016" stroke-width="2.2" stroke-linecap="round" stroke-linejoin="round" opacity="0.7"/>
<path d="M82.0,333.0 L120.0,340.0" fill="none" stroke="#5f9016" stroke-width="2.2" stroke-linecap="round" stroke-linejoin="round" opacity="0.7"/>
<path d="M110.0,310.0 L128.0,330.0" fill="none" stroke="#5f9016" stroke-width="2.2" stroke-linecap="round" stroke-linejoin="round" opacity="0.7"/>
<path d="M90.0,282.0 L100.0,300.0" fill="none" stroke="#5f9016" stroke-width="2.2" stroke-linecap="round" stroke-linejoin="round" opacity="0.7"/>
<path d="M256.0,125.0 L300.0,113.0" fill="none" stroke="#5f9016" stroke-width="2.2" stroke-linecap="round" stroke-linejoin="round" opacity="0.7"/>
<path d="M60.0,125.0 L75.0,135.0 L90.0,140.0" fill="none" stroke="#5f9016" stroke-width="2.2" stroke-linecap="round" stroke-linejoin="round" opacity="0.7"/>
<path d="M70.0,150.0 L80.0,170.0" fill="none" stroke="#5f9016" stroke-width="2.2" stroke-linecap="round" stroke-linejoin="round" opacity="0.7"/>
<path d="M40.0,170.0 L60.0,178.0 L80.0,180.0" fill="none" stroke="#5f9016" stroke-width="2.2" stroke-linecap="round" stroke-linejoin="round" opacity="0.7"/>
<path d="M35.0,195.0 L60.0,200.0" fill="none" stroke="#5f9016" stroke-width="2.2" stroke-linecap="round" stroke-linejoin="round" opacity="0.7"/>
<path d="M50.0,212.0 L80.0,218.0" fill="none" stroke="#5f9016" stroke-width="2.2" stroke-linecap="round" stroke-linejoin="round" opacity="0.7"/>
<path d="M75.0,190.0 L85.0,210.0" fill="none" stroke="#5f9016" stroke-width="2.2" stroke-linecap="round" stroke-linejoin="round" opacity="0.7"/>
<path d="M60.0,285.0 L80.0,292.0" fill="none" stroke="#5f9016" stroke-width="2.2" stroke-linecap="round" stroke-linejoin="round" opacity="0.7"/>
<path d="M95.0,285.0 L100.0,300.0" fill="none" stroke="#5f9016" stroke-width="2.2" stroke-linecap="round" stroke-linejoin="round" opacity="0.7"/>
<path d="M60.0,312.0 L85.0,315.0" fill="none" stroke="#5f9016" stroke-width="2.2" stroke-linecap="round" stroke-linejoin="round" opacity="0.7"/>
<path d="M115.0,315.0 L125.0,330.0" fill="none" stroke="#5f9016" stroke-width="2.2" stroke-linecap="round" stroke-linejoin="round" opacity="0.7"/>
<path d="M90.0,333.0 L110.0,336.0" fill="none" stroke="#5f9016" stroke-width="2.2" stroke-linecap="round" stroke-linejoin="round" opacity="0.7"/>
<path d="M185.0,125.0 L210.0,105.0" fill="none" stroke="#5f9016" stroke-width="2.2" stroke-linecap="round" stroke-linejoin="round" opacity="0.7"/>
<path d="M230.0,150.0 L238.0,170.0" fill="none" stroke="#5f9016" stroke-width="2.2" stroke-linecap="round" stroke-linejoin="round" opacity="0.7"/>
<path d="M260.0,165.0 L285.0,167.0" fill="none" stroke="#5f9016" stroke-width="2.2" stroke-linecap="round" stroke-linejoin="round" opacity="0.7"/>
<path d="M240.0,205.0 L255.0,200.0" fill="none" stroke="#5f9016" stroke-width="2.2" stroke-linecap="round" stroke-linejoin="round" opacity="0.7"/>
<path d="M240.0,262.0 L280.0,262.0" fill="none" stroke="#5f9016" stroke-width="2.2" stroke-linecap="round" stroke-linejoin="round" opacity="0.7"/>
<path d="M200.0,300.0 L240.0,300.0" fill="none" stroke="#5f9016" stroke-width="2.2" stroke-linecap="round" stroke-linejoin="round" opacity="0.7"/>
<path d="M255.0,245.0 L285.0,240.0" fill="none" stroke="#5f9016" stroke-width="2.2" stroke-linecap="round" stroke-linejoin="round" opacity="0.7"/>
<path d="M190.0,270.0 L200.0,255.0" fill="none" stroke="#5f9016" stroke-width="2.2" stroke-linecap="round" stroke-linejoin="round" opacity="0.7"/>
<path d="M100.0,208.0 L118.0,228.0" fill="none" stroke="#5f9016" stroke-width="2.2" stroke-linecap="round" stroke-linejoin="round" opacity="0.7"/>
<path d="M93.0,158.0 L115.0,160.0" fill="none" stroke="#5f9016" stroke-width="2.2" stroke-linecap="round" stroke-linejoin="round" opacity="0.7"/>
<path d="M262.0,115.0 L295.0,112.0" fill="none" stroke="#5f9016" stroke-width="2.2" stroke-linecap="round" stroke-linejoin="round" opacity="0.7"/>
<path d="M152.0,380.0 L153.0,395.0" fill="none" stroke="#5f9016" stroke-width="2.2" stroke-linecap="round" stroke-linejoin="round" opacity="0.7"/>
<path d="M150.0,405.0 L151.0,418.0" fill="none" stroke="#5f9016" stroke-width="2.2" stroke-linecap="round" stroke-linejoin="round" opacity="0.7"/>
<path d="M155.0,300.0 L156.0,315.0" fill="none" stroke="#5f9016" stroke-width="2.2" stroke-linecap="round" stroke-linejoin="round" opacity="0.7"/>
<path d="M157.0,260.0 L158.0,272.0" fill="none" stroke="#5f9016" stroke-width="2.2" stroke-linecap="round" stroke-linejoin="round" opacity="0.7"/>
<path d="M147.0,355.0 L148.0,366.0" fill="none" stroke="#5f9016" stroke-width="2.2" stroke-linecap="round" stroke-linejoin="round" opacity="0.7"/>
<path d="M130.0,131.9 L129.5,123.9 L125.5,124.1 L126.0,132.1Z" fill="#8aba22" stroke="#8aba22" stroke-width="1" stroke-linejoin="round" />
<path d="M108.6,92.1 L113.5,98.6 L118.5,95.0 L122.1,101.4 L126.0,98.0 L130.0,102.0 L137.8,103.5 L136.4,110.0 L135.0,117.0 L130.7,123.5 L125.0,125.0 L117.8,125.0 L112.8,122.0 L107.1,118.5 L99.3,115.0 L104.3,112.0 L98.6,108.5 L109.3,105.7 L109.3,99.3Z" fill="#dfd51b" stroke="#dfd51b" stroke-width="1" stroke-linejoin="round" />
<path d="M112.0,112.0 L120.0,118.0 L126.0,116.0 L128.0,110.0 L131.0,118.0" fill="none" stroke="#a8a01c" stroke-width="1.6" stroke-linecap="round" stroke-linejoin="round" opacity="0.8"/>
<path d="M104.0,113.0 L112.0,116.0" fill="none" stroke="#a8a01c" stroke-width="1.2" stroke-linecap="round" stroke-linejoin="round" opacity="0.7"/>
<path d="M187.5,169.3 L195.0,176.0 L201.0,181.0 L195.0,185.0 L191.0,190.7 L183.0,190.0 L176.0,189.0 L172.8,184.0 L175.0,179.0 L183.7,177.8Z" fill="#dfd51b" stroke="#dfd51b" stroke-width="1" stroke-linejoin="round" />
<path d="M176.0,180.0 L186.0,182.0" fill="none" stroke="#8f8a20" stroke-width="1.3" stroke-linecap="round" stroke-linejoin="round" opacity="0.8"/>
<path d="M178.0,188.0 L188.0,188.0" fill="none" stroke="#8f8a20" stroke-width="1.3" stroke-linecap="round" stroke-linejoin="round" opacity="0.8"/>
<path d="M211.0,236.0 L217.0,232.0 L221.0,237.0 L226.0,233.5 L233.0,238.5 L228.0,245.0 L224.0,252.0 L216.0,254.0 L210.0,248.0 L209.0,242.0Z" fill="#dfd51b" stroke="#dfd51b" stroke-width="1" stroke-linejoin="round" />
<path d="M214.0,244.0 L222.0,242.0 L226.0,248.0" fill="none" stroke="#a8a01c" stroke-width="1.2" stroke-linecap="round" stroke-linejoin="round" opacity="0.8"/>
</g>
<!-- nickel dots -->
<g fill="#fff" stroke="#c42f3c" stroke-width="3.1">
<circle cx="148" cy="101" r="7.6"/>
<circle cx="205" cy="93" r="7.6"/>
<circle cx="88" cy="124" r="7.6"/>
<circle cx="67" cy="140" r="7.6"/>
<circle cx="165" cy="146" r="7.6"/>
<circle cx="55" cy="183" r="7.6"/>
<circle cx="55" cy="271" r="7.6"/>
<circle cx="238" cy="258" r="7.6"/>
<circle cx="223" cy="288" r="7.6"/>
<circle cx="271" cy="272" r="7.6"/>
<circle cx="45" cy="485" r="7.6"/>
<circle cx="75" cy="474" r="7.6"/>
<circle cx="201" cy="449" r="7.6"/>
<circle cx="123" cy="488" r="7.6"/>
<circle cx="147" cy="496" r="7.6"/>
<circle cx="173" cy="488" r="7.6"/>
<circle cx="117" cy="511" r="7.6"/>
<circle cx="147" cy="522" r="7.6"/>
<circle cx="174" cy="518" r="7.6"/>
<circle cx="242" cy="493" r="7.6"/>
</g>
<!-- callout -->
<line x1="271" y1="272" x2="271" y2="309.5" stroke="#4a4a50" stroke-width="1.4"/>
<circle cx="271" cy="272" r="2.6" fill="#333"/>

<!-- flame -->
<defs><clipPath id="fc"><path d="M666.6,95.6 C675,98 684,104 688,111 C690.5,118 690.7,127 689.5,134 C689.3,137 690.5,140.5 692.1,142.4 C694.5,138 698,134 702.2,132.3 C706,139 707,150 704.2,158.5 C703,163 701,167.5 698.9,171 C702,169.8 705.5,169 709,169.3 C708,177 704.5,184 698.5,188.5 C691,193.5 682,195.2 673.7,195.1 C664,195 655.5,192.5 649.5,187.5 C643,182 639.8,172 639.8,163 C639.8,155 641,150 642.7,146.5 C644.5,151 647,155.5 652.5,157.3 C655.5,156 657,152 656.8,146 C656.5,139 655,133 655.5,127 C656.5,121 659.5,116 662.7,113 C663.5,119 665,125 670.6,130 C675,129 677.5,124 677.7,118.5 C677.7,111 673.5,103 666.6,95.6 Z"/></clipPath><radialGradient id="fg" cx="0.5" cy="0.5" r="0.5"><stop offset="0" stop-color="#fbf5c0"/><stop offset="0.6" stop-color="#fbefa0"/><stop offset="1" stop-color="#fbe463" stop-opacity="0"/></radialGradient></defs>
<g clip-path="url(#fc)">
<path d="M666.6,95.6 C675,98 684,104 688,111 C690.5,118 690.7,127 689.5,134 C689.3,137 690.5,140.5 692.1,142.4 C694.5,138 698,134 702.2,132.3 C706,139 707,150 704.2,158.5 C703,163 701,167.5 698.9,171 C702,169.8 705.5,169 709,169.3 C708,177 704.5,184 698.5,188.5 C691,193.5 682,195.2 673.7,195.1 C664,195 655.5,192.5 649.5,187.5 C643,182 639.8,172 639.8,163 C639.8,155 641,150 642.7,146.5 C644.5,151 647,155.5 652.5,157.3 C655.5,156 657,152 656.8,146 C656.5,139 655,133 655.5,127 C656.5,121 659.5,116 662.7,113 C663.5,119 665,125 670.6,130 C675,129 677.5,124 677.7,118.5 C677.7,111 673.5,103 666.6,95.6 Z" fill="#fbe25e" stroke="#f7921e" stroke-width="13"/>
<path d="M666.6,95.6 C675,98 684,104 688,111 C690.5,118 690.7,127 689.5,134 C689.3,137 690.5,140.5 692.1,142.4 C694.5,138 698,134 702.2,132.3 C706,139 707,150 704.2,158.5 C703,163 701,167.5 698.9,171 C702,169.8 705.5,169 709,169.3 C708,177 704.5,184 698.5,188.5 C691,193.5 682,195.2 673.7,195.1 C664,195 655.5,192.5 649.5,187.5 C643,182 639.8,172 639.8,163 C639.8,155 641,150 642.7,146.5 C644.5,151 647,155.5 652.5,157.3 C655.5,156 657,152 656.8,146 C656.5,139 655,133 655.5,127 C656.5,121 659.5,116 662.7,113 C663.5,119 665,125 670.6,130 C675,129 677.5,124 677.7,118.5 C677.7,111 673.5,103 666.6,95.6 Z" fill="none" stroke="#e5281b" stroke-width="7"/>
<ellipse cx="673" cy="168" rx="20" ry="23" fill="url(#fg)"/>
</g>
<path d="M671,148.5 C679,151 684.5,159 684,168 C683.5,175 679,180.5 674,183 C667,181 662,174 661.8,165.5 C661.8,157 665,151.5 671,148.5Z" fill="#74b032" stroke="#51901f" stroke-width="1.1"/>
<path d="M671,150.5 C674.5,159 675.5,171 673.8,186" stroke="#4b8a1c" stroke-width="1.1" fill="none"/>
<path d="M673.5,158 L679,155.5 M674.5,165 L681,162 M674.5,172 L680,170 M672.5,161 L666.5,158.5 M673.5,168 L666.5,166 M674,175 L668,173.5" stroke="#4b8a1c" stroke-width="0.8" fill="none"/>
<!-- ash -->
<g id="ash">
<circle cx="987.5" cy="210.5" r="0.52" fill="#5e5e5e" opacity="0.73"/>
<circle cx="894.8" cy="183.8" r="0.58" fill="#676767" opacity="0.60"/>
<circle cx="903.6" cy="186.7" r="0.63" fill="#8a8a8a" opacity="0.71"/>
<circle cx="901.0" cy="221.0" r="0.79" fill="#7c7c7c" opacity="0.59"/>
<circle cx="887.5" cy="203.0" r="0.85" fill="#595959" opacity="0.60"/>
<circle cx="866.9" cy="214.3" r="0.76" fill="#6b6b6b" opacity="0.67"/>
<circle cx="904.2" cy="211.9" r="0.78" fill="#a0a0a0" opacity="0.79"/>
<circle cx="904.5" cy="206.5" r="0.58" fill="#939393" opacity="0.89"/>
<circle cx="904.6" cy="182.1" r="0.55" fill="#6a6a6a" opacity="0.61"/>
<circle cx="927.5" cy="221.8" r="0.84" fill="#9b9b9b" opacity="0.74"/>
<circle cx="952.9" cy="201.6" r="0.94" fill="#919191" opacity="0.52"/>
<circle cx="880.7" cy="207.4" r="0.65" fill="#818181" opacity="0.58"/>
<circle cx="911.5" cy="167.6" r="0.93" fill="#848484" opacity="0.70"/>
<circle cx="894.0" cy="183.2" r="0.86" fill="#898989" opacity="0.74"/>
<circle cx="902.7" cy="219.0" r="0.61" fill="#626262" opacity="0.86"/>
<circle cx="907.6" cy="216.4" r="0.58" fill="#a1a1a1" opacity="0.89"/>
<circle cx="893.0" cy="191.5" r="0.93" fill="#a4a4a4" opacity="0.56"/>
<circle cx="886.5" cy="191.3" r="0.58" fill="#939393" opacity="0.52"/>
<circle cx="940.6" cy="209.1" r="0.60" fill="#656565" opacity="0.69"/>
<circle cx="900.4" cy="179.6" r="0.62" fill="#909090" opacity="0.76"/>
<circle cx="900.0" cy="188.3" r="0.80" fill="#888888" opacity="0.47"/>
<circle cx="893.9" cy="220.6" r="0.54" fill="#a3a3a3" opacity="0.81"/>
<circle cx="892.0" cy="197.7" r="0.89" fill="#888888" opacity="0.51"/>
<circle cx="923.4" cy="221.9" r="0.52" fill="#5c5c5c" opacity="0.58"/>
<circle cx="885.3" cy="215.0" r="0.85" fill="#666666" opacity="0.84"/>
<circle cx="918.0" cy="185.7" r="0.78" fill="#575757" opacity="0.49"/>
<circle cx="885.8" cy="217.9" r="0.50" fill="#7e7e7e" opacity="0.69"/>
<circle cx="969.2" cy="209.5" r="0.86" fill="#939393" opacity="0.51"/>
<circle cx="900.0" cy="200.5" r="0.64" fill="#868686" opacity="0.78"/>
<circle cx="903.7" cy="179.5" r="0.71" fill="#838383" opacity="0.72"/>
<circle cx="914.3" cy="190.7" r="0.78" fill="#686868" opacity="0.48"/>
<circle cx="980.4" cy="217.3" r="0.58" fill="#9b9b9b" opacity="0.57"/>
<circle cx="885.3" cy="191.8" r="0.61" fill="#848484" opacity="0.48"/>
<circle cx="990.9" cy="207.3" r="0.50" fill="#939393" opacity="0.66"/>
<circle cx="989.0" cy="212.2" r="0.75" fill="#696969" opacity="0.84"/>
<circle cx="936.5" cy="176.2" r="0.47" fill="#747474" opacity="0.54"/>
<circle cx="892.9" cy="184.7" r="0.83" fill="#8a8a8a" opacity="0.62"/>
<circle cx="934.3" cy="181.2" r="0.58" fill="#666666" opacity="0.75"/>
<circle cx="964.6" cy="196.8" r="0.93" fill="#5b5b5b" opacity="0.82"/>
<circle cx="940.9" cy="201.6" r="0.85" fill="#8c8c8c" opacity="0.50"/>
<circle cx="897.6" cy="220.4" r="0.54" fill="#8c8c8c" opacity="0.47"/>
<circle cx="921.0" cy="192.4" r="0.86" fill="#656565" opacity="0.64"/>
<circle cx="922.3" cy="218.2" r="0.55" fill="#707070" opacity="0.82"/>
<circle cx="901.3" cy="211.9" r="0.79" fill="#555555" opacity="0.62"/>
<circle cx="911.1" cy="175.2" r="0.90" fill="#a1a1a1" opacity="0.59"/>
<circle cx="878.5" cy="199.2" r="0.81" fill="#7f7f7f" opacity="0.48"/>
<circle cx="872.8" cy="200.6" r="0.82" fill="#8d8d8d" opacity="0.82"/>
<circle cx="964.0" cy="207.6" r="0.85" fill="#636363" opacity="0.90"/>
<circle cx="985.9" cy="202.4" r="0.74" fill="#606060" opacity="0.58"/>
<circle cx="900.5" cy="216.0" r="0.56" fill="#5b5b5b" opacity="0.89"/>
<circle cx="890.7" cy="207.5" r="0.73" fill="#616161" opacity="0.64"/>
<circle cx="886.8" cy="189.9" r="0.45" fill="#5f5f5f" opacity="0.79"/>
<circle cx="887.6" cy="190.2" r="0.49" fill="#979797" opacity="0.89"/>
<circle cx="879.1" cy="213.0" r="0.49" fill="#979797" opacity="0.58"/>
<circle cx="939.0" cy="219.6" r="0.47" fill="#a0a0a0" opacity="0.46"/>
<circle cx="963.4" cy="218.9" r="0.66" fill="#6d6d6d" opacity="0.89"/>
<circle cx="893.0" cy="204.0" r="0.83" fill="#6a6a6a" opacity="0.48"/>
<circle cx="911.4" cy="169.9" r="0.93" fill="#949494" opacity="0.72"/>
<circle cx="905.9" cy="211.2" r="0.90" fill="#979797" opacity="0.85"/>
<circle cx="933.6" cy="178.7" r="0.64" fill="#888888" opacity="0.62"/>
<circle cx="886.1" cy="197.5" r="0.46" fill="#9a9a9a" opacity="0.62"/>
<circle cx="885.6" cy="203.9" r="0.84" fill="#565656" opacity="0.64"/>
<circle cx="908.3" cy="221.0" r="0.64" fill="#9b9b9b" opacity="0.63"/>
<circle cx="901.1" cy="213.8" r="0.82" fill="#676767" opacity="0.57"/>
<circle cx="889.5" cy="217.9" r="0.75" fill="#6b6b6b" opacity="0.70"/>
<circle cx="891.0" cy="186.7" r="0.60" fill="#8f8f8f" opacity="0.45"/>
<circle cx="919.8" cy="170.3" r="0.61" fill="#767676" opacity="0.73"/>
<circle cx="972.0" cy="205.5" r="0.50" fill="#616161" opacity="0.73"/>
<circle cx="976.7" cy="198.4" r="0.64" fill="#9a9a9a" opacity="0.74"/>
<circle cx="911.3" cy="181.7" r="0.60" fill="#5d5d5d" opacity="0.60"/>
<circle cx="911.0" cy="190.5" r="0.46" fill="#8a8a8a" opacity="0.70"/>
<circle cx="881.4" cy="194.0" r="0.78" fill="#858585" opacity="0.53"/>
<circle cx="878.8" cy="218.2" r="0.52" fill="#5e5e5e" opacity="0.47"/>
<circle cx="888.4" cy="191.1" r="0.50" fill="#a2a2a2" opacity="0.72"/>
<circle cx="918.6" cy="222.7" r="0.95" fill="#8d8d8d" opacity="0.51"/>
<circle cx="874.5" cy="206.1" r="0.89" fill="#9f9f9f" opacity="0.73"/>
<circle cx="940.6" cy="200.0" r="0.52" fill="#797979" opacity="0.64"/>
<circle cx="869.2" cy="203.2" r="0.45" fill="#595959" opacity="0.87"/>
<circle cx="901.0" cy="208.3" r="0.84" fill="#a3a3a3" opacity="0.46"/>
<circle cx="906.0" cy="198.4" r="0.64" fill="#616161" opacity="0.72"/>
<circle cx="921.5" cy="194.4" r="0.76" fill="#a3a3a3" opacity="0.83"/>
<circle cx="984.2" cy="205.5" r="0.90" fill="#888888" opacity="0.52"/>
<circle cx="928.7" cy="173.3" r="0.83" fill="#777777" opacity="0.84"/>
<circle cx="957.0" cy="189.3" r="0.74" fill="#7e7e7e" opacity="0.77"/>
<circle cx="874.2" cy="201.8" r="0.63" fill="#8c8c8c" opacity="0.51"/>
<circle cx="930.5" cy="174.5" r="0.61" fill="#a1a1a1" opacity="0.49"/>
<circle cx="902.6" cy="210.8" r="0.79" fill="#a5a5a5" opacity="0.51"/>
<circle cx="895.4" cy="221.5" r="0.53" fill="#616161" opacity="0.73"/>
<circle cx="939.2" cy="218.7" r="0.86" fill="#8f8f8f" opacity="0.68"/>
<circle cx="904.8" cy="199.8" r="0.45" fill="#6b6b6b" opacity="0.51"/>
<circle cx="893.8" cy="188.5" r="0.68" fill="#8c8c8c" opacity="0.52"/>
<circle cx="899.8" cy="205.8" r="0.87" fill="#878787" opacity="0.73"/>
<circle cx="918.7" cy="178.3" r="0.45" fill="#898989" opacity="0.76"/>
<circle cx="906.7" cy="172.8" r="0.57" fill="#888888" opacity="0.67"/>
<circle cx="900.8" cy="200.4" r="0.47" fill="#565656" opacity="0.67"/>
<circle cx="891.0" cy="194.7" r="0.95" fill="#717171" opacity="0.60"/>
<circle cx="897.2" cy="184.3" r="0.83" fill="#646464" opacity="0.50"/>
<circle cx="984.8" cy="201.9" r="0.91" fill="#9f9f9f" opacity="0.83"/>
<circle cx="958.0" cy="192.4" r="0.68" fill="#7c7c7c" opacity="0.55"/>
<circle cx="858.3" cy="209.3" r="0.56" fill="#9c9c9c" opacity="0.75"/>
<circle cx="903.0" cy="177.7" r="0.60" fill="#9f9f9f" opacity="0.52"/>
<circle cx="892.3" cy="208.2" r="0.51" fill="#6a6a6a" opacity="0.72"/>
<circle cx="955.7" cy="208.3" r="0.76" fill="#8d8d8d" opacity="0.76"/>
<circle cx="919.9" cy="196.0" r="0.73" fill="#818181" opacity="0.88"/>
<circle cx="873.9" cy="211.9" r="0.88" fill="#919191" opacity="0.72"/>
<circle cx="879.8" cy="207.3" r="0.49" fill="#777777" opacity="0.61"/>
<circle cx="954.2" cy="201.2" r="0.92" fill="#727272" opacity="0.81"/>
<circle cx="906.8" cy="213.3" r="0.69" fill="#878787" opacity="0.52"/>
<circle cx="859.1" cy="209.8" r="0.69" fill="#939393" opacity="0.83"/>
<circle cx="876.4" cy="213.5" r="0.67" fill="#939393" opacity="0.70"/>
<circle cx="862.7" cy="211.3" r="0.78" fill="#9a9a9a" opacity="0.46"/>
<circle cx="954.7" cy="204.8" r="0.85" fill="#636363" opacity="0.82"/>
<circle cx="897.8" cy="193.0" r="0.72" fill="#6d6d6d" opacity="0.56"/>
<circle cx="950.4" cy="189.3" r="0.90" fill="#949494" opacity="0.66"/>
<circle cx="903.1" cy="176.5" r="0.73" fill="#a5a5a5" opacity="0.56"/>
<circle cx="929.7" cy="201.6" r="0.50" fill="#626262" opacity="0.59"/>
<circle cx="947.7" cy="185.3" r="0.81" fill="#989898" opacity="0.78"/>
<circle cx="975.5" cy="199.2" r="0.79" fill="#737373" opacity="0.80"/>
<circle cx="907.2" cy="187.1" r="0.66" fill="#8a8a8a" opacity="0.88"/>
<circle cx="960.9" cy="209.7" r="0.79" fill="#919191" opacity="0.50"/>
<circle cx="954.6" cy="210.5" r="0.92" fill="#6e6e6e" opacity="0.65"/>
<circle cx="912.5" cy="170.4" r="0.61" fill="#9e9e9e" opacity="0.56"/>
<circle cx="983.3" cy="200.3" r="0.75" fill="#666666" opacity="0.67"/>
<circle cx="911.1" cy="202.7" r="0.94" fill="#838383" opacity="0.67"/>
<circle cx="869.6" cy="208.2" r="0.76" fill="#656565" opacity="0.72"/>
<circle cx="927.9" cy="173.8" r="0.74" fill="#727272" opacity="0.85"/>
<circle cx="925.6" cy="192.8" r="0.72" fill="#666666" opacity="0.72"/>
<circle cx="911.2" cy="177.6" r="0.83" fill="#868686" opacity="0.64"/>
<circle cx="884.0" cy="214.1" r="0.51" fill="#8b8b8b" opacity="0.78"/>
<circle cx="991.5" cy="208.8" r="0.55" fill="#575757" opacity="0.81"/>
<circle cx="930.0" cy="221.7" r="0.95" fill="#898989" opacity="0.60"/>
<circle cx="880.4" cy="201.6" r="0.79" fill="#555555" opacity="0.80"/>
<circle cx="876.1" cy="213.2" r="0.48" fill="#9e9e9e" opacity="0.46"/>
<circle cx="984.6" cy="216.0" r="0.75" fill="#737373" opacity="0.84"/>
<circle cx="955.2" cy="184.8" r="0.81" fill="#636363" opacity="0.66"/>
<circle cx="883.2" cy="196.0" r="0.52" fill="#686868" opacity="0.86"/>
<circle cx="914.7" cy="171.0" r="0.48" fill="#7f7f7f" opacity="0.89"/>
<circle cx="868.8" cy="208.7" r="0.88" fill="#5c5c5c" opacity="0.88"/>
<circle cx="905.2" cy="218.3" r="0.92" fill="#8b8b8b" opacity="0.47"/>
<circle cx="956.8" cy="208.4" r="0.79" fill="#7e7e7e" opacity="0.76"/>
<circle cx="924.3" cy="222.0" r="0.81" fill="#a1a1a1" opacity="0.82"/>
<circle cx="937.7" cy="214.5" r="0.95" fill="#8b8b8b" opacity="0.88"/>
<circle cx="900.9" cy="214.6" r="0.55" fill="#757575" opacity="0.88"/>
<circle cx="902.8" cy="214.6" r="0.59" fill="#666666" opacity="0.60"/>
<circle cx="931.1" cy="192.8" r="0.70" fill="#8d8d8d" opacity="0.48"/>
<circle cx="865.0" cy="211.0" r="0.64" fill="#a4a4a4" opacity="0.69"/>
<circle cx="871.8" cy="204.9" r="0.77" fill="#939393" opacity="0.77"/>
<circle cx="929.0" cy="217.2" r="0.75" fill="#848484" opacity="0.45"/>
<circle cx="894.2" cy="221.8" r="0.76" fill="#878787" opacity="0.89"/>
<circle cx="942.3" cy="211.1" r="0.58" fill="#8d8d8d" opacity="0.83"/>
<circle cx="985.1" cy="207.3" r="0.78" fill="#7f7f7f" opacity="0.48"/>
<circle cx="909.3" cy="190.7" r="0.45" fill="#919191" opacity="0.90"/>
<circle cx="880.1" cy="195.0" r="0.77" fill="#7e7e7e" opacity="0.64"/>
<circle cx="909.4" cy="176.3" r="0.94" fill="#949494" opacity="0.69"/>
<circle cx="863.5" cy="214.1" r="0.88" fill="#686868" opacity="0.64"/>
<circle cx="916.0" cy="217.5" r="0.49" fill="#626262" opacity="0.47"/>
<circle cx="986.1" cy="213.5" r="0.53" fill="#616161" opacity="0.62"/>
<circle cx="984.0" cy="216.6" r="0.55" fill="#727272" opacity="0.60"/>
<circle cx="874.5" cy="201.5" r="0.53" fill="#878787" opacity="0.75"/>
<circle cx="890.0" cy="186.8" r="0.52" fill="#5e5e5e" opacity="0.72"/>
<circle cx="915.2" cy="166.3" r="0.83" fill="#9b9b9b" opacity="0.58"/>
<circle cx="915.3" cy="175.7" r="0.83" fill="#7f7f7f" opacity="0.46"/>
<circle cx="903.6" cy="177.0" r="0.66" fill="#555555" opacity="0.68"/>
<circle cx="956.6" cy="215.7" r="0.63" fill="#898989" opacity="0.72"/>
<circle cx="948.8" cy="184.4" r="0.68" fill="#787878" opacity="0.79"/>
<circle cx="882.9" cy="217.4" r="0.91" fill="#989898" opacity="0.69"/>
<circle cx="949.3" cy="202.2" r="0.85" fill="#979797" opacity="0.78"/>
<circle cx="874.8" cy="210.8" r="0.62" fill="#646464" opacity="0.56"/>
<circle cx="958.5" cy="186.4" r="0.60" fill="#a2a2a2" opacity="0.57"/>
<circle cx="922.5" cy="218.4" r="0.72" fill="#a0a0a0" opacity="0.72"/>
<circle cx="943.0" cy="201.1" r="0.82" fill="#585858" opacity="0.50"/>
<circle cx="919.4" cy="206.1" r="0.74" fill="#666666" opacity="0.49"/>
<circle cx="892.0" cy="186.2" r="0.90" fill="#888888" opacity="0.53"/>
<circle cx="979.9" cy="218.8" r="0.49" fill="#808080" opacity="0.74"/>
<circle cx="901.8" cy="218.5" r="0.49" fill="#898989" opacity="0.54"/>
<circle cx="904.7" cy="175.0" r="0.93" fill="#9f9f9f" opacity="0.63"/>
<circle cx="871.3" cy="207.3" r="0.60" fill="#6a6a6a" opacity="0.85"/>
<circle cx="885.9" cy="192.4" r="0.85" fill="#686868" opacity="0.62"/>
<circle cx="911.7" cy="222.4" r="0.48" fill="#626262" opacity="0.76"/>
<circle cx="893.7" cy="197.1" r="0.80" fill="#969696" opacity="0.55"/>
<circle cx="975.8" cy="212.6" r="0.85" fill="#5b5b5b" opacity="0.83"/>
<circle cx="905.2" cy="219.6" r="0.52" fill="#a4a4a4" opacity="0.79"/>
<circle cx="912.0" cy="220.4" r="0.74" fill="#8c8c8c" opacity="0.82"/>
<circle cx="963.0" cy="217.8" r="0.84" fill="#9a9a9a" opacity="0.66"/>
<circle cx="900.7" cy="215.7" r="0.57" fill="#727272" opacity="0.54"/>
<circle cx="965.4" cy="210.3" r="0.60" fill="#7e7e7e" opacity="0.78"/>
<circle cx="974.2" cy="218.2" r="0.54" fill="#717171" opacity="0.78"/>
<circle cx="900.2" cy="197.5" r="0.92" fill="#7c7c7c" opacity="0.71"/>
<circle cx="934.7" cy="181.8" r="0.70" fill="#929292" opacity="0.81"/>
<circle cx="932.9" cy="195.5" r="0.50" fill="#999999" opacity="0.49"/>
<circle cx="975.0" cy="198.2" r="0.69" fill="#636363" opacity="0.88"/>
<circle cx="985.3" cy="218.0" r="0.55" fill="#818181" opacity="0.87"/>
<circle cx="937.2" cy="199.8" r="0.89" fill="#818181" opacity="0.78"/>
<circle cx="929.1" cy="214.3" r="0.62" fill="#a3a3a3" opacity="0.66"/>
<circle cx="986.1" cy="216.1" r="0.62" fill="#959595" opacity="0.83"/>
<circle cx="873.0" cy="209.6" r="0.76" fill="#767676" opacity="0.74"/>
<circle cx="879.4" cy="205.5" r="0.67" fill="#8e8e8e" opacity="0.56"/>
<circle cx="925.7" cy="211.4" r="0.54" fill="#939393" opacity="0.56"/>
<circle cx="967.6" cy="211.7" r="0.57" fill="#a2a2a2" opacity="0.47"/>
<circle cx="916.8" cy="172.7" r="0.53" fill="#878787" opacity="0.84"/>
<circle cx="967.3" cy="212.4" r="0.45" fill="#9f9f9f" opacity="0.76"/>
<circle cx="943.4" cy="179.6" r="0.88" fill="#757575" opacity="0.74"/>
<circle cx="962.0" cy="199.8" r="0.58" fill="#707070" opacity="0.88"/>
<circle cx="967.0" cy="217.0" r="0.73" fill="#9f9f9f" opacity="0.73"/>
<circle cx="970.6" cy="200.1" r="0.52" fill="#898989" opacity="0.69"/>
<circle cx="983.6" cy="209.6" r="0.57" fill="#7a7a7a" opacity="0.78"/>
<circle cx="909.5" cy="176.7" r="0.47" fill="#868686" opacity="0.64"/>
<circle cx="899.8" cy="200.1" r="0.89" fill="#777777" opacity="0.50"/>
<circle cx="906.8" cy="202.2" r="0.50" fill="#939393" opacity="0.65"/>
<circle cx="997.4" cy="214.4" r="0.64" fill="#9e9e9e" opacity="0.53"/>
<circle cx="903.4" cy="210.3" r="0.73" fill="#969696" opacity="0.78"/>
<circle cx="987.4" cy="204.9" r="0.63" fill="#6a6a6a" opacity="0.51"/>
<circle cx="960.0" cy="213.6" r="0.72" fill="#888888" opacity="0.52"/>
<circle cx="899.2" cy="202.1" r="0.92" fill="#7d7d7d" opacity="0.88"/>
<circle cx="902.1" cy="187.5" r="0.81" fill="#a5a5a5" opacity="0.54"/>
<circle cx="871.9" cy="215.8" r="0.52" fill="#9d9d9d" opacity="0.52"/>
<circle cx="885.3" cy="211.6" r="0.48" fill="#565656" opacity="0.70"/>
<circle cx="901.4" cy="221.2" r="0.87" fill="#7f7f7f" opacity="0.83"/>
<circle cx="881.1" cy="198.1" r="0.90" fill="#585858" opacity="0.66"/>
<circle cx="943.7" cy="207.3" r="0.84" fill="#676767" opacity="0.57"/>
<circle cx="906.9" cy="173.1" r="0.59" fill="#646464" opacity="0.63"/>
<circle cx="937.7" cy="220.0" r="0.89" fill="#666666" opacity="0.78"/>
<circle cx="901.9" cy="178.9" r="0.54" fill="#646464" opacity="0.50"/>
<circle cx="931.4" cy="174.5" r="0.80" fill="#646464" opacity="0.79"/>
<circle cx="989.6" cy="216.3" r="0.84" fill="#8f8f8f" opacity="0.48"/>
<circle cx="939.3" cy="181.9" r="0.48" fill="#878787" opacity="0.71"/>
<circle cx="959.1" cy="201.5" r="0.47" fill="#5f5f5f" opacity="0.79"/>
<circle cx="866.0" cy="213.1" r="0.51" fill="#616161" opacity="0.63"/>
<circle cx="905.7" cy="194.4" r="0.60" fill="#5f5f5f" opacity="0.58"/>
<circle cx="982.4" cy="204.8" r="0.50" fill="#585858" opacity="0.54"/>
<circle cx="917.5" cy="169.7" r="0.76" fill="#6a6a6a" opacity="0.62"/>
<circle cx="921.2" cy="217.2" r="0.50" fill="#575757" opacity="0.58"/>
<circle cx="923.3" cy="188.2" r="0.75" fill="#969696" opacity="0.56"/>
<circle cx="978.8" cy="210.2" r="0.67" fill="#727272" opacity="0.45"/>
<circle cx="897.0" cy="180.6" r="0.94" fill="#a4a4a4" opacity="0.50"/>
<circle cx="953.7" cy="189.4" r="0.92" fill="#666666" opacity="0.51"/>
<circle cx="863.8" cy="211.2" r="0.57" fill="#727272" opacity="0.80"/>
<circle cx="875.8" cy="217.5" r="0.69" fill="#8a8a8a" opacity="0.50"/>
<circle cx="933.6" cy="220.2" r="0.59" fill="#5c5c5c" opacity="0.47"/>
<circle cx="905.0" cy="194.7" r="0.72" fill="#9a9a9a" opacity="0.86"/>
<circle cx="903.6" cy="191.8" r="0.79" fill="#717171" opacity="0.77"/>
<circle cx="887.8" cy="218.3" r="0.60" fill="#959595" opacity="0.64"/>
<circle cx="906.9" cy="178.2" r="0.76" fill="#777777" opacity="0.74"/>
<circle cx="865.6" cy="211.0" r="0.94" fill="#979797" opacity="0.65"/>
<circle cx="909.9" cy="193.8" r="0.52" fill="#9b9b9b" opacity="0.59"/>
<circle cx="864.9" cy="210.5" r="0.58" fill="#a1a1a1" opacity="0.84"/>
<circle cx="880.6" cy="201.8" r="0.76" fill="#9e9e9e" opacity="0.66"/>
<circle cx="875.2" cy="217.2" r="0.91" fill="#949494" opacity="0.64"/>
<circle cx="861.0" cy="212.6" r="0.45" fill="#a5a5a5" opacity="0.49"/>
<circle cx="983.1" cy="215.0" r="0.82" fill="#808080" opacity="0.78"/>
<circle cx="916.0" cy="194.8" r="0.49" fill="#a4a4a4" opacity="0.54"/>
<circle cx="980.2" cy="207.4" r="0.81" fill="#888888" opacity="0.55"/>
<circle cx="901.5" cy="204.9" r="0.49" fill="#9f9f9f" opacity="0.82"/>
<circle cx="931.7" cy="218.5" r="0.92" fill="#8b8b8b" opacity="0.48"/>
<circle cx="931.1" cy="219.9" r="0.48" fill="#6e6e6e" opacity="0.75"/>
<circle cx="881.6" cy="207.7" r="0.90" fill="#585858" opacity="0.57"/>
<circle cx="912.1" cy="201.0" r="0.76" fill="#6a6a6a" opacity="0.78"/>
<circle cx="868.9" cy="206.4" r="0.73" fill="#939393" opacity="0.49"/>
<circle cx="901.5" cy="221.5" r="0.95" fill="#a5a5a5" opacity="0.90"/>
<circle cx="967.7" cy="217.6" r="0.59" fill="#9f9f9f" opacity="0.87"/>
<circle cx="952.2" cy="204.9" r="0.49" fill="#7b7b7b" opacity="0.86"/>
<circle cx="970.8" cy="217.8" r="0.61" fill="#787878" opacity="0.67"/>
<circle cx="947.5" cy="219.5" r="0.52" fill="#6e6e6e" opacity="0.68"/>
<circle cx="942.7" cy="212.5" r="0.80" fill="#626262" opacity="0.79"/>
<circle cx="896.6" cy="180.6" r="0.81" fill="#858585" opacity="0.70"/>
<circle cx="870.0" cy="207.1" r="0.74" fill="#636363" opacity="0.79"/>
<circle cx="864.9" cy="214.1" r="0.87" fill="#8a8a8a" opacity="0.78"/>
<circle cx="983.4" cy="214.2" r="0.81" fill="#989898" opacity="0.87"/>
<circle cx="873.2" cy="215.4" r="0.84" fill="#838383" opacity="0.67"/>
<circle cx="880.6" cy="215.4" r="0.91" fill="#555555" opacity="0.81"/>
<circle cx="927.8" cy="187.1" r="0.68" fill="#828282" opacity="0.65"/>
<circle cx="978.2" cy="212.6" r="0.82" fill="#9a9a9a" opacity="0.51"/>
<circle cx="907.7" cy="174.3" r="0.65" fill="#979797" opacity="0.70"/>
<circle cx="922.3" cy="174.0" r="0.50" fill="#565656" opacity="0.87"/>
<circle cx="945.8" cy="212.8" r="0.52" fill="#9d9d9d" opacity="0.46"/>
<circle cx="899.6" cy="178.8" r="0.84" fill="#575757" opacity="0.49"/>
<circle cx="976.8" cy="217.1" r="0.61" fill="#6c6c6c" opacity="0.46"/>
<circle cx="945.0" cy="182.6" r="0.63" fill="#686868" opacity="0.85"/>
<circle cx="929.4" cy="220.3" r="0.60" fill="#8c8c8c" opacity="0.82"/>
<circle cx="881.6" cy="212.0" r="0.82" fill="#737373" opacity="0.65"/>
<circle cx="873.0" cy="207.0" r="0.48" fill="#a2a2a2" opacity="0.74"/>
<circle cx="892.4" cy="190.4" r="0.94" fill="#7f7f7f" opacity="0.69"/>
<circle cx="896.5" cy="213.8" r="0.77" fill="#606060" opacity="0.58"/>
<circle cx="960.6" cy="208.2" r="0.82" fill="#909090" opacity="0.79"/>
<circle cx="893.2" cy="195.8" r="0.56" fill="#808080" opacity="0.57"/>
<circle cx="907.0" cy="215.1" r="0.46" fill="#898989" opacity="0.77"/>
<circle cx="880.6" cy="218.8" r="0.52" fill="#919191" opacity="0.58"/>
<circle cx="890.2" cy="188.3" r="0.91" fill="#a1a1a1" opacity="0.72"/>
<circle cx="918.6" cy="183.2" r="0.46" fill="#9d9d9d" opacity="0.68"/>
<circle cx="974.3" cy="200.7" r="0.60" fill="#8f8f8f" opacity="0.69"/>
<circle cx="910.4" cy="223.6" r="0.47" fill="#858585" opacity="0.46"/>
<circle cx="866.1" cy="211.0" r="0.52" fill="#6d6d6d" opacity="0.54"/>
<circle cx="944.7" cy="200.0" r="0.72" fill="#a0a0a0" opacity="0.58"/>
<circle cx="883.2" cy="201.8" r="0.76" fill="#5c5c5c" opacity="0.64"/>
<circle cx="875.4" cy="206.8" r="0.80" fill="#717171" opacity="0.84"/>
<circle cx="903.9" cy="184.5" r="0.80" fill="#5b5b5b" opacity="0.78"/>
<circle cx="985.2" cy="204.2" r="0.62" fill="#676767" opacity="0.61"/>
<circle cx="905.0" cy="198.3" r="0.76" fill="#929292" opacity="0.74"/>
<circle cx="970.0" cy="218.6" r="0.70" fill="#828282" opacity="0.80"/>
<circle cx="903.1" cy="185.1" r="0.69" fill="#9a9a9a" opacity="0.74"/>
<circle cx="969.1" cy="205.4" r="0.70" fill="#9c9c9c" opacity="0.55"/>
<circle cx="891.3" cy="197.2" r="0.52" fill="#747474" opacity="0.80"/>
<circle cx="863.1" cy="210.7" r="0.70" fill="#8d8d8d" opacity="0.89"/>
<circle cx="912.6" cy="196.6" r="0.80" fill="#9b9b9b" opacity="0.47"/>
<circle cx="913.8" cy="221.4" r="0.91" fill="#8f8f8f" opacity="0.85"/>
<circle cx="943.3" cy="183.6" r="0.65" fill="#9c9c9c" opacity="0.56"/>
<circle cx="985.8" cy="205.6" r="0.66" fill="#6b6b6b" opacity="0.72"/>
<circle cx="937.5" cy="191.8" r="0.63" fill="#767676" opacity="0.58"/>
<circle cx="867.1" cy="207.0" r="0.66" fill="#9a9a9a" opacity="0.77"/>
<circle cx="908.2" cy="170.8" r="0.46" fill="#7f7f7f" opacity="0.65"/>
<circle cx="912.3" cy="171.6" r="0.77" fill="#888888" opacity="0.61"/>
<circle cx="945.3" cy="185.9" r="0.94" fill="#8a8a8a" opacity="0.75"/>
<circle cx="912.9" cy="221.7" r="0.90" fill="#565656" opacity="0.47"/>
<circle cx="902.0" cy="221.1" r="0.57" fill="#5c5c5c" opacity="0.69"/>
<circle cx="905.6" cy="172.1" r="0.65" fill="#999999" opacity="0.58"/>
<circle cx="901.8" cy="208.6" r="0.92" fill="#797979" opacity="0.50"/>
<circle cx="883.2" cy="200.5" r="0.86" fill="#5d5d5d" opacity="0.46"/>
<circle cx="895.8" cy="188.3" r="0.63" fill="#6d6d6d" opacity="0.78"/>
<circle cx="926.1" cy="175.8" r="0.63" fill="#9c9c9c" opacity="0.47"/>
<circle cx="955.3" cy="204.9" r="0.74" fill="#575757" opacity="0.62"/>
<circle cx="888.6" cy="188.2" r="0.69" fill="#949494" opacity="0.67"/>
<circle cx="962.2" cy="218.5" r="0.52" fill="#6d6d6d" opacity="0.62"/>
<circle cx="881.5" cy="198.3" r="0.81" fill="#7d7d7d" opacity="0.63"/>
<circle cx="921.8" cy="186.7" r="0.61" fill="#848484" opacity="0.83"/>
<circle cx="919.1" cy="219.6" r="0.53" fill="#888888" opacity="0.46"/>
<circle cx="903.2" cy="200.5" r="0.51" fill="#656565" opacity="0.70"/>
<circle cx="903.5" cy="174.6" r="0.61" fill="#666666" opacity="0.51"/>
<circle cx="961.6" cy="193.8" r="0.46" fill="#686868" opacity="0.56"/>
<circle cx="978.7" cy="207.9" r="0.78" fill="#585858" opacity="0.83"/>
<circle cx="910.0" cy="168.0" r="0.90" fill="#5b5b5b" opacity="0.83"/>
<circle cx="960.2" cy="208.3" r="0.79" fill="#909090" opacity="0.86"/>
<circle cx="907.4" cy="220.7" r="0.91" fill="#6b6b6b" opacity="0.72"/>
<circle cx="904.2" cy="218.7" r="0.55" fill="#565656" opacity="0.74"/>
<circle cx="864.9" cy="206.7" r="0.83" fill="#7d7d7d" opacity="0.46"/>
<circle cx="868.8" cy="205.3" r="0.51" fill="#575757" opacity="0.70"/>
<circle cx="942.9" cy="204.3" r="0.55" fill="#717171" opacity="0.61"/>
<circle cx="924.1" cy="172.6" r="0.47" fill="#7f7f7f" opacity="0.57"/>
<circle cx="888.8" cy="189.8" r="0.77" fill="#6c6c6c" opacity="0.46"/>
<circle cx="893.8" cy="197.5" r="0.58" fill="#888888" opacity="0.63"/>
<circle cx="902.2" cy="217.3" r="0.75" fill="#7f7f7f" opacity="0.82"/>
<circle cx="939.4" cy="217.4" r="0.89" fill="#7e7e7e" opacity="0.56"/>
<circle cx="912.0" cy="212.3" r="0.66" fill="#9f9f9f" opacity="0.71"/>
<circle cx="975.4" cy="196.3" r="0.63" fill="#909090" opacity="0.55"/>
<circle cx="927.0" cy="193.8" r="0.61" fill="#5b5b5b" opacity="0.57"/>
<circle cx="905.9" cy="187.5" r="0.80" fill="#6d6d6d" opacity="0.46"/>
<circle cx="966.0" cy="208.5" r="0.86" fill="#707070" opacity="0.66"/>
<circle cx="903.9" cy="204.1" r="0.51" fill="#909090" opacity="0.58"/>
<circle cx="911.5" cy="172.4" r="0.50" fill="#808080" opacity="0.68"/>
<circle cx="944.9" cy="201.7" r="0.83" fill="#676767" opacity="0.54"/>
<circle cx="908.5" cy="172.0" r="0.85" fill="#717171" opacity="0.84"/>
<circle cx="891.9" cy="209.3" r="0.67" fill="#6d6d6d" opacity="0.84"/>
<circle cx="926.8" cy="190.1" r="0.89" fill="#959595" opacity="0.49"/>
<circle cx="959.3" cy="209.8" r="0.79" fill="#828282" opacity="0.70"/>
<circle cx="876.5" cy="217.3" r="0.48" fill="#a2a2a2" opacity="0.83"/>
<circle cx="899.0" cy="181.5" r="0.67" fill="#7f7f7f" opacity="0.89"/>
<circle cx="965.5" cy="211.8" r="0.85" fill="#7f7f7f" opacity="0.82"/>
<circle cx="907.4" cy="202.3" r="0.60" fill="#5d5d5d" opacity="0.90"/>
<circle cx="903.1" cy="177.1" r="0.75" fill="#6c6c6c" opacity="0.60"/>
<circle cx="993.6" cy="210.3" r="0.79" fill="#969696" opacity="0.75"/>
<circle cx="965.1" cy="216.4" r="0.49" fill="#9f9f9f" opacity="0.88"/>
<circle cx="917.5" cy="175.8" r="0.90" fill="#989898" opacity="0.81"/>
<circle cx="908.1" cy="177.5" r="0.92" fill="#8b8b8b" opacity="0.66"/>
<circle cx="930.4" cy="173.4" r="0.53" fill="#a3a3a3" opacity="0.50"/>
<circle cx="912.5" cy="193.4" r="0.81" fill="#898989" opacity="0.68"/>
<circle cx="895.9" cy="217.7" r="0.59" fill="#7d7d7d" opacity="0.66"/>
<circle cx="903.0" cy="205.7" r="0.79" fill="#6c6c6c" opacity="0.60"/>
<circle cx="907.5" cy="183.5" r="0.95" fill="#9a9a9a" opacity="0.45"/>
<circle cx="877.5" cy="216.8" r="0.87" fill="#8a8a8a" opacity="0.84"/>
<circle cx="912.2" cy="173.2" r="0.81" fill="#939393" opacity="0.68"/>
<circle cx="957.2" cy="190.5" r="0.64" fill="#828282" opacity="0.87"/>
<circle cx="941.6" cy="217.2" r="0.87" fill="#939393" opacity="0.45"/>
<circle cx="872.9" cy="214.8" r="0.59" fill="#818181" opacity="0.63"/>
<circle cx="929.2" cy="217.7" r="0.94" fill="#6c6c6c" opacity="0.50"/>
<circle cx="888.5" cy="190.2" r="0.83" fill="#969696" opacity="0.90"/>
<circle cx="908.9" cy="187.6" r="0.80" fill="#868686" opacity="0.75"/>
<circle cx="952.3" cy="208.9" r="0.74" fill="#898989" opacity="0.83"/>
<circle cx="921.6" cy="217.9" r="0.49" fill="#707070" opacity="0.52"/>
<circle cx="926.5" cy="190.8" r="0.72" fill="#8a8a8a" opacity="0.89"/>
<circle cx="906.3" cy="215.5" r="0.69" fill="#595959" opacity="0.64"/>
<circle cx="997.9" cy="213.3" r="0.77" fill="#676767" opacity="0.63"/>
<circle cx="911.6" cy="198.1" r="0.75" fill="#6a6a6a" opacity="0.45"/>
<circle cx="906.9" cy="213.6" r="0.65" fill="#6b6b6b" opacity="0.83"/>
<circle cx="935.4" cy="208.0" r="0.56" fill="#a5a5a5" opacity="0.69"/>
<circle cx="953.3" cy="207.4" r="0.55" fill="#838383" opacity="0.56"/>
<circle cx="883.1" cy="216.5" r="0.87" fill="#5b5b5b" opacity="0.77"/>
<circle cx="972.1" cy="193.2" r="0.72" fill="#818181" opacity="0.70"/>
<circle cx="903.6" cy="182.4" r="0.86" fill="#7c7c7c" opacity="0.84"/>
<circle cx="875.5" cy="210.3" r="0.78" fill="#838383" opacity="0.73"/>
<circle cx="977.1" cy="196.9" r="0.72" fill="#9f9f9f" opacity="0.60"/>
<circle cx="911.0" cy="171.3" r="0.75" fill="#727272" opacity="0.73"/>
<circle cx="936.6" cy="176.9" r="0.49" fill="#a4a4a4" opacity="0.53"/>
<circle cx="908.4" cy="170.0" r="0.77" fill="#7c7c7c" opacity="0.52"/>
<circle cx="860.9" cy="207.8" r="0.57" fill="#959595" opacity="0.51"/>
<circle cx="952.3" cy="207.2" r="0.46" fill="#9d9d9d" opacity="0.79"/>
<circle cx="931.5" cy="219.0" r="0.66" fill="#777777" opacity="0.51"/>
<circle cx="919.8" cy="195.1" r="0.70" fill="#6c6c6c" opacity="0.77"/>
<circle cx="928.8" cy="220.3" r="0.54" fill="#9b9b9b" opacity="0.54"/>
<circle cx="879.5" cy="215.5" r="0.57" fill="#8d8d8d" opacity="0.75"/>
<circle cx="869.2" cy="209.2" r="0.60" fill="#555555" opacity="0.61"/>
<circle cx="987.4" cy="204.6" r="0.81" fill="#848484" opacity="0.76"/>
<circle cx="949.0" cy="204.3" r="0.76" fill="#9c9c9c" opacity="0.47"/>
<circle cx="912.2" cy="216.5" r="0.73" fill="#6e6e6e" opacity="0.83"/>
<circle cx="891.1" cy="190.7" r="0.76" fill="#626262" opacity="0.56"/>
<circle cx="987.2" cy="208.1" r="0.78" fill="#686868" opacity="0.78"/>
<circle cx="921.6" cy="212.1" r="0.59" fill="#626262" opacity="0.61"/>
<circle cx="906.5" cy="173.1" r="0.65" fill="#888888" opacity="0.82"/>
<circle cx="902.0" cy="176.6" r="0.83" fill="#5e5e5e" opacity="0.82"/>
<circle cx="933.1" cy="179.3" r="0.80" fill="#7e7e7e" opacity="0.52"/>
<circle cx="964.9" cy="209.3" r="0.71" fill="#676767" opacity="0.61"/>
<circle cx="952.8" cy="214.0" r="0.93" fill="#868686" opacity="0.48"/>
<circle cx="954.7" cy="209.1" r="0.58" fill="#7a7a7a" opacity="0.83"/>
<circle cx="867.6" cy="205.5" r="0.60" fill="#636363" opacity="0.86"/>
<circle cx="979.1" cy="210.7" r="0.52" fill="#858585" opacity="0.84"/>
<circle cx="990.8" cy="210.5" r="0.49" fill="#6b6b6b" opacity="0.70"/>
<circle cx="898.7" cy="219.8" r="0.52" fill="#989898" opacity="0.77"/>
<circle cx="905.6" cy="202.3" r="0.74" fill="#707070" opacity="0.65"/>
<circle cx="978.7" cy="198.0" r="0.78" fill="#696969" opacity="0.62"/>
<circle cx="895.9" cy="209.4" r="0.55" fill="#7a7a7a" opacity="0.71"/>
<circle cx="986.9" cy="214.6" r="0.93" fill="#5f5f5f" opacity="0.45"/>
<circle cx="935.8" cy="176.5" r="0.62" fill="#a4a4a4" opacity="0.75"/>
<circle cx="952.7" cy="218.8" r="0.87" fill="#606060" opacity="0.53"/>
<circle cx="917.9" cy="188.3" r="0.94" fill="#838383" opacity="0.79"/>
<circle cx="911.9" cy="172.7" r="0.66" fill="#686868" opacity="0.83"/>
<circle cx="889.3" cy="190.9" r="0.69" fill="#5a5a5a" opacity="0.82"/>
<circle cx="916.6" cy="172.5" r="0.70" fill="#6b6b6b" opacity="0.65"/>
<circle cx="968.9" cy="193.7" r="0.88" fill="#7a7a7a" opacity="0.84"/>
<circle cx="866.3" cy="215.3" r="0.91" fill="#7c7c7c" opacity="0.61"/>
<circle cx="911.5" cy="216.8" r="0.84" fill="#a5a5a5" opacity="0.61"/>
<circle cx="941.6" cy="220.0" r="0.84" fill="#7c7c7c" opacity="0.76"/>
<circle cx="923.8" cy="186.9" r="0.64" fill="#a5a5a5" opacity="0.73"/>
<circle cx="908.7" cy="184.7" r="0.58" fill="#5f5f5f" opacity="0.52"/>
<circle cx="916.0" cy="220.9" r="0.66" fill="#9a9a9a" opacity="0.47"/>
<circle cx="872.1" cy="216.1" r="0.71" fill="#727272" opacity="0.71"/>
<circle cx="926.8" cy="213.5" r="0.47" fill="#9e9e9e" opacity="0.56"/>
<circle cx="890.9" cy="209.3" r="0.56" fill="#7f7f7f" opacity="0.70"/>
<circle cx="988.2" cy="208.6" r="0.58" fill="#909090" opacity="0.76"/>
<circle cx="873.7" cy="199.5" r="0.86" fill="#8a8a8a" opacity="0.54"/>
<circle cx="903.4" cy="207.9" r="0.76" fill="#7b7b7b" opacity="0.47"/>
<circle cx="947.5" cy="219.7" r="0.59" fill="#616161" opacity="0.87"/>
<circle cx="912.7" cy="223.1" r="0.71" fill="#737373" opacity="0.69"/>
<circle cx="902.7" cy="181.7" r="0.72" fill="#565656" opacity="0.85"/>
<circle cx="907.7" cy="195.6" r="0.53" fill="#6d6d6d" opacity="0.48"/>
<circle cx="923.5" cy="169.8" r="0.53" fill="#939393" opacity="0.68"/>
<circle cx="905.2" cy="184.8" r="0.71" fill="#848484" opacity="0.55"/>
<circle cx="974.7" cy="200.5" r="0.93" fill="#969696" opacity="0.54"/>
<circle cx="891.8" cy="193.8" r="0.49" fill="#5a5a5a" opacity="0.89"/>
<circle cx="924.5" cy="217.9" r="0.94" fill="#888888" opacity="0.77"/>
<circle cx="969.7" cy="193.6" r="0.68" fill="#8d8d8d" opacity="0.59"/>
<circle cx="890.8" cy="186.1" r="0.75" fill="#828282" opacity="0.87"/>
<circle cx="901.5" cy="211.0" r="0.46" fill="#6c6c6c" opacity="0.74"/>
<circle cx="906.1" cy="187.5" r="0.89" fill="#666666" opacity="0.70"/>
<circle cx="974.6" cy="203.8" r="0.48" fill="#767676" opacity="0.70"/>
<circle cx="913.8" cy="170.4" r="0.62" fill="#a5a5a5" opacity="0.50"/>
<circle cx="859.7" cy="208.2" r="0.85" fill="#9d9d9d" opacity="0.79"/>
<circle cx="930.6" cy="176.3" r="0.57" fill="#5f5f5f" opacity="0.64"/>
<circle cx="880.1" cy="205.9" r="0.81" fill="#888888" opacity="0.88"/>
<circle cx="920.8" cy="174.3" r="0.81" fill="#858585" opacity="0.70"/>
<circle cx="967.3" cy="212.5" r="0.48" fill="#676767" opacity="0.89"/>
<circle cx="930.5" cy="214.9" r="0.51" fill="#686868" opacity="0.47"/>
<circle cx="908.2" cy="174.6" r="0.63" fill="#6c6c6c" opacity="0.80"/>
<circle cx="920.2" cy="221.5" r="0.68" fill="#8e8e8e" opacity="0.56"/>
<circle cx="898.3" cy="200.0" r="0.54" fill="#939393" opacity="0.78"/>
<circle cx="886.0" cy="197.8" r="0.94" fill="#707070" opacity="0.83"/>
<circle cx="965.0" cy="192.1" r="0.72" fill="#a1a1a1" opacity="0.45"/>
<circle cx="889.6" cy="220.3" r="0.86" fill="#606060" opacity="0.77"/>
<circle cx="861.1" cy="208.5" r="0.56" fill="#5e5e5e" opacity="0.59"/>
<circle cx="980.2" cy="217.3" r="0.75" fill="#919191" opacity="0.81"/>
<circle cx="908.7" cy="188.3" r="0.75" fill="#9d9d9d" opacity="0.50"/>
<circle cx="906.2" cy="188.8" r="0.87" fill="#7a7a7a" opacity="0.48"/>
<circle cx="904.8" cy="189.0" r="0.66" fill="#747474" opacity="0.62"/>
<circle cx="929.3" cy="211.2" r="0.67" fill="#5c5c5c" opacity="0.57"/>
<circle cx="900.7" cy="208.2" r="0.59" fill="#5c5c5c" opacity="0.49"/>
<circle cx="883.2" cy="194.8" r="0.57" fill="#757575" opacity="0.89"/>
<circle cx="908.4" cy="219.9" r="0.64" fill="#656565" opacity="0.54"/>
<circle cx="971.0" cy="193.0" r="0.72" fill="#575757" opacity="0.51"/>
<circle cx="894.2" cy="190.5" r="0.46" fill="#7f7f7f" opacity="0.84"/>
<circle cx="873.6" cy="206.2" r="0.92" fill="#8d8d8d" opacity="0.85"/>
<circle cx="868.9" cy="214.5" r="0.87" fill="#a5a5a5" opacity="0.56"/>
<circle cx="887.2" cy="197.5" r="0.74" fill="#696969" opacity="0.58"/>
<circle cx="970.6" cy="209.7" r="0.70" fill="#666666" opacity="0.76"/>
<circle cx="903.7" cy="192.0" r="0.73" fill="#9d9d9d" opacity="0.83"/>
<circle cx="871.9" cy="214.5" r="0.93" fill="#939393" opacity="0.88"/>
<circle cx="885.0" cy="191.7" r="0.63" fill="#6a6a6a" opacity="0.72"/>
<circle cx="938.4" cy="218.2" r="0.78" fill="#9b9b9b" opacity="0.55"/>
<circle cx="913.6" cy="175.4" r="0.74" fill="#6a6a6a" opacity="0.59"/>
<circle cx="993.8" cy="209.5" r="0.52" fill="#999999" opacity="0.73"/>
<circle cx="858.5" cy="210.3" r="0.82" fill="#6d6d6d" opacity="0.78"/>
<circle cx="947.6" cy="204.9" r="0.74" fill="#999999" opacity="0.66"/>
<circle cx="963.2" cy="207.6" r="0.62" fill="#838383" opacity="0.71"/>
<circle cx="859.0" cy="209.5" r="0.83" fill="#767676" opacity="0.54"/>
<circle cx="918.0" cy="168.4" r="0.63" fill="#757575" opacity="0.61"/>
<circle cx="951.3" cy="208.6" r="0.63" fill="#6a6a6a" opacity="0.80"/>
<circle cx="963.0" cy="208.1" r="0.84" fill="#7f7f7f" opacity="0.60"/>
<circle cx="918.5" cy="173.2" r="0.63" fill="#757575" opacity="0.67"/>
<circle cx="889.1" cy="201.0" r="0.61" fill="#656565" opacity="0.48"/>
<circle cx="963.8" cy="201.2" r="0.94" fill="#979797" opacity="0.67"/>
<circle cx="995.7" cy="215.4" r="0.88" fill="#5f5f5f" opacity="0.48"/>
<circle cx="901.9" cy="178.2" r="0.72" fill="#686868" opacity="0.80"/>
<circle cx="909.0" cy="221.1" r="0.46" fill="#a0a0a0" opacity="0.87"/>
<circle cx="968.8" cy="196.9" r="0.73" fill="#9f9f9f" opacity="0.69"/>
<circle cx="942.4" cy="180.1" r="0.49" fill="#6c6c6c" opacity="0.59"/>
<circle cx="960.4" cy="212.0" r="0.79" fill="#565656" opacity="0.76"/>
<circle cx="879.7" cy="196.1" r="0.70" fill="#9c9c9c" opacity="0.86"/>
<circle cx="936.3" cy="196.8" r="0.89" fill="#9e9e9e" opacity="0.80"/>
<circle cx="966.5" cy="211.2" r="0.77" fill="#8d8d8d" opacity="0.70"/>
<circle cx="884.8" cy="194.9" r="0.48" fill="#6b6b6b" opacity="0.70"/>
<circle cx="913.3" cy="169.9" r="0.60" fill="#565656" opacity="0.78"/>
<circle cx="909.8" cy="183.7" r="0.53" fill="#636363" opacity="0.77"/>
<circle cx="945.8" cy="215.1" r="0.57" fill="#7f7f7f" opacity="0.52"/>
<circle cx="904.8" cy="222.1" r="0.68" fill="#595959" opacity="0.70"/>
<circle cx="921.0" cy="192.3" r="0.51" fill="#626262" opacity="0.54"/>
<circle cx="913.3" cy="169.9" r="0.86" fill="#7f7f7f" opacity="0.89"/>
<circle cx="920.6" cy="174.7" r="0.92" fill="#696969" opacity="0.46"/>
<circle cx="879.6" cy="213.9" r="0.48" fill="#7c7c7c" opacity="0.68"/>
<circle cx="871.7" cy="201.5" r="0.72" fill="#7e7e7e" opacity="0.76"/>
<circle cx="978.9" cy="211.2" r="0.92" fill="#838383" opacity="0.51"/>
<circle cx="901.6" cy="203.5" r="0.88" fill="#878787" opacity="0.82"/>
<circle cx="896.7" cy="202.1" r="0.55" fill="#7b7b7b" opacity="0.77"/>
<circle cx="940.0" cy="178.3" r="0.53" fill="#5b5b5b" opacity="0.66"/>
<circle cx="867.9" cy="209.1" r="0.78" fill="#727272" opacity="0.88"/>
<circle cx="862.7" cy="212.9" r="0.84" fill="#979797" opacity="0.70"/>
<circle cx="898.3" cy="206.3" r="0.72" fill="#555555" opacity="0.70"/>
<circle cx="906.3" cy="204.0" r="0.59" fill="#727272" opacity="0.61"/>
<circle cx="935.8" cy="209.6" r="0.93" fill="#9b9b9b" opacity="0.53"/>
<circle cx="934.8" cy="220.4" r="0.67" fill="#555555" opacity="0.80"/>
<circle cx="988.3" cy="205.2" r="0.80" fill="#787878" opacity="0.80"/>
<circle cx="899.4" cy="217.3" r="0.57" fill="#999999" opacity="0.80"/>
<circle cx="969.5" cy="191.8" r="0.83" fill="#848484" opacity="0.68"/>
<circle cx="975.8" cy="216.9" r="0.70" fill="#565656" opacity="0.86"/>
<circle cx="954.2" cy="189.5" r="0.73" fill="#717171" opacity="0.78"/>
<circle cx="922.9" cy="194.8" r="0.93" fill="#555555" opacity="0.63"/>
<circle cx="942.8" cy="179.1" r="0.78" fill="#565656" opacity="0.58"/>
<circle cx="932.4" cy="177.3" r="0.52" fill="#868686" opacity="0.89"/>
<circle cx="965.9" cy="194.5" r="0.88" fill="#969696" opacity="0.53"/>
<circle cx="913.9" cy="196.9" r="0.56" fill="#6a6a6a" opacity="0.73"/>
<circle cx="899.1" cy="209.3" r="0.62" fill="#949494" opacity="0.45"/>
<circle cx="891.9" cy="204.1" r="0.83" fill="#848484" opacity="0.59"/>
<circle cx="882.8" cy="205.5" r="0.88" fill="#7a7a7a" opacity="0.84"/>
<circle cx="892.2" cy="215.1" r="0.52" fill="#5e5e5e" opacity="0.47"/>
<circle cx="894.7" cy="220.2" r="0.46" fill="#898989" opacity="0.67"/>
<circle cx="881.1" cy="197.5" r="0.89" fill="#909090" opacity="0.78"/>
<circle cx="941.5" cy="178.6" r="0.90" fill="#717171" opacity="0.52"/>
<circle cx="901.9" cy="202.8" r="0.53" fill="#636363" opacity="0.84"/>
<circle cx="921.0" cy="222.7" r="0.58" fill="#9c9c9c" opacity="0.77"/>
<circle cx="972.3" cy="193.7" r="0.53" fill="#767676" opacity="0.47"/>
<circle cx="935.1" cy="175.7" r="0.75" fill="#9b9b9b" opacity="0.47"/>
<circle cx="907.7" cy="183.8" r="0.69" fill="#8c8c8c" opacity="0.74"/>
<circle cx="909.7" cy="193.2" r="0.63" fill="#787878" opacity="0.47"/>
<circle cx="911.0" cy="185.0" r="0.51" fill="#585858" opacity="0.47"/>
<circle cx="900.6" cy="221.9" r="0.91" fill="#a3a3a3" opacity="0.85"/>
<circle cx="933.1" cy="179.6" r="0.72" fill="#757575" opacity="0.71"/>
<circle cx="978.5" cy="218.8" r="0.91" fill="#686868" opacity="0.68"/>
<circle cx="997.1" cy="216.1" r="0.91" fill="#9a9a9a" opacity="0.88"/>
<circle cx="904.2" cy="213.8" r="0.68" fill="#a5a5a5" opacity="0.52"/>
<circle cx="967.1" cy="193.6" r="0.63" fill="#a5a5a5" opacity="0.51"/>
<circle cx="961.3" cy="195.8" r="0.92" fill="#797979" opacity="0.75"/>
<circle cx="911.7" cy="185.1" r="0.73" fill="#646464" opacity="0.66"/>
<circle cx="887.5" cy="213.1" r="0.66" fill="#616161" opacity="0.56"/>
<circle cx="876.4" cy="214.5" r="0.78" fill="#a1a1a1" opacity="0.58"/>
<circle cx="910.6" cy="208.9" r="0.95" fill="#979797" opacity="0.78"/>
<circle cx="920.0" cy="193.1" r="0.66" fill="#878787" opacity="0.74"/>
<circle cx="926.1" cy="173.8" r="0.84" fill="#a2a2a2" opacity="0.76"/>
<circle cx="988.2" cy="214.9" r="0.94" fill="#5b5b5b" opacity="0.65"/>
<circle cx="960.0" cy="200.1" r="0.49" fill="#5f5f5f" opacity="0.45"/>
<circle cx="935.3" cy="218.6" r="0.55" fill="#8a8a8a" opacity="0.49"/>
<circle cx="882.3" cy="204.8" r="0.50" fill="#696969" opacity="0.73"/>
<circle cx="912.2" cy="173.6" r="0.91" fill="#a0a0a0" opacity="0.82"/>
<circle cx="918.3" cy="173.5" r="0.89" fill="#a5a5a5" opacity="0.51"/>
<circle cx="911.5" cy="208.8" r="0.91" fill="#5a5a5a" opacity="0.59"/>
<circle cx="875.3" cy="213.3" r="0.94" fill="#676767" opacity="0.48"/>
<circle cx="901.4" cy="216.9" r="0.74" fill="#929292" opacity="0.84"/>
<circle cx="939.8" cy="178.5" r="0.80" fill="#919191" opacity="0.48"/>
<circle cx="894.6" cy="198.9" r="0.88" fill="#7d7d7d" opacity="0.84"/>
<circle cx="982.5" cy="200.2" r="0.75" fill="#626262" opacity="0.58"/>
<circle cx="884.9" cy="200.2" r="0.49" fill="#585858" opacity="0.68"/>
<circle cx="898.8" cy="211.4" r="0.93" fill="#7e7e7e" opacity="0.73"/>
<circle cx="937.6" cy="181.3" r="0.73" fill="#888888" opacity="0.60"/>
<circle cx="871.0" cy="207.1" r="0.67" fill="#6e6e6e" opacity="0.65"/>
<circle cx="931.1" cy="220.6" r="0.87" fill="#a3a3a3" opacity="0.55"/>
<circle cx="947.8" cy="181.1" r="0.66" fill="#555555" opacity="0.71"/>
<circle cx="923.8" cy="170.7" r="0.52" fill="#818181" opacity="0.47"/>
<circle cx="887.2" cy="196.9" r="0.85" fill="#696969" opacity="0.45"/>
<circle cx="898.1" cy="198.5" r="0.62" fill="#797979" opacity="0.76"/>
<circle cx="898.6" cy="207.1" r="0.48" fill="#787878" opacity="0.75"/>
<circle cx="891.4" cy="220.8" r="0.91" fill="#a2a2a2" opacity="0.63"/>
<circle cx="989.3" cy="210.2" r="0.77" fill="#636363" opacity="0.74"/>
<circle cx="904.4" cy="213.2" r="0.71" fill="#979797" opacity="0.71"/>
<circle cx="909.1" cy="223.4" r="0.93" fill="#828282" opacity="0.89"/>
<circle cx="892.1" cy="187.4" r="0.82" fill="#969696" opacity="0.53"/>
<circle cx="992.2" cy="212.7" r="0.94" fill="#9c9c9c" opacity="0.88"/>
<circle cx="994.4" cy="214.0" r="0.87" fill="#6f6f6f" opacity="0.73"/>
<circle cx="914.2" cy="167.1" r="0.90" fill="#5c5c5c" opacity="0.73"/>
<circle cx="894.2" cy="221.3" r="0.61" fill="#6d6d6d" opacity="0.46"/>
<circle cx="909.4" cy="194.6" r="0.87" fill="#6f6f6f" opacity="0.89"/>
<circle cx="917.7" cy="222.8" r="0.59" fill="#606060" opacity="0.68"/>
<circle cx="964.5" cy="212.2" r="0.81" fill="#848484" opacity="0.78"/>
<circle cx="965.1" cy="212.7" r="0.62" fill="#8d8d8d" opacity="0.57"/>
<circle cx="898.4" cy="205.2" r="0.88" fill="#646464" opacity="0.73"/>
<circle cx="981.7" cy="199.2" r="0.52" fill="#8a8a8a" opacity="0.53"/>
<circle cx="965.8" cy="207.5" r="0.66" fill="#626262" opacity="0.58"/>
<circle cx="981.0" cy="209.9" r="0.79" fill="#999999" opacity="0.76"/>
<circle cx="890.7" cy="190.6" r="0.75" fill="#696969" opacity="0.65"/>
<circle cx="964.3" cy="211.2" r="0.53" fill="#9f9f9f" opacity="0.49"/>
<circle cx="939.5" cy="213.2" r="0.46" fill="#a4a4a4" opacity="0.55"/>
<circle cx="882.9" cy="218.4" r="0.73" fill="#8d8d8d" opacity="0.86"/>
<circle cx="912.3" cy="166.7" r="0.72" fill="#575757" opacity="0.64"/>
<circle cx="878.5" cy="214.2" r="0.94" fill="#676767" opacity="0.55"/>
<circle cx="936.1" cy="180.7" r="0.49" fill="#969696" opacity="0.86"/>
<circle cx="950.7" cy="206.9" r="0.88" fill="#818181" opacity="0.71"/>
<circle cx="905.4" cy="192.3" r="0.85" fill="#9f9f9f" opacity="0.55"/>
<circle cx="937.1" cy="192.2" r="0.56" fill="#9e9e9e" opacity="0.87"/>
<circle cx="876.3" cy="204.7" r="0.83" fill="#636363" opacity="0.82"/>
<circle cx="905.3" cy="195.0" r="0.59" fill="#929292" opacity="0.71"/>
<circle cx="896.7" cy="220.0" r="0.81" fill="#8f8f8f" opacity="0.73"/>
<circle cx="908.4" cy="204.9" r="0.53" fill="#969696" opacity="0.63"/>
<circle cx="913.4" cy="169.7" r="0.72" fill="#797979" opacity="0.75"/>
<circle cx="979.6" cy="216.6" r="0.52" fill="#8d8d8d" opacity="0.62"/>
<circle cx="979.3" cy="197.2" r="0.93" fill="#a1a1a1" opacity="0.57"/>
<circle cx="934.0" cy="214.4" r="0.78" fill="#747474" opacity="0.83"/>
<circle cx="932.2" cy="175.7" r="0.84" fill="#656565" opacity="0.68"/>
<circle cx="939.2" cy="179.5" r="0.54" fill="#898989" opacity="0.57"/>
<circle cx="929.9" cy="203.6" r="0.50" fill="#8d8d8d" opacity="0.72"/>
<circle cx="892.8" cy="221.3" r="0.67" fill="#959595" opacity="0.65"/>
<circle cx="878.6" cy="200.2" r="0.84" fill="#6b6b6b" opacity="0.77"/>
<circle cx="932.1" cy="221.3" r="0.77" fill="#5e5e5e" opacity="0.61"/>
<circle cx="940.2" cy="192.3" r="0.76" fill="#5b5b5b" opacity="0.46"/>
<circle cx="862.4" cy="207.5" r="0.60" fill="#999999" opacity="0.55"/>
<circle cx="926.7" cy="174.4" r="0.47" fill="#5d5d5d" opacity="0.45"/>
<circle cx="983.0" cy="215.1" r="0.76" fill="#828282" opacity="0.46"/>
<circle cx="904.4" cy="212.8" r="0.81" fill="#9b9b9b" opacity="0.79"/>
<circle cx="889.1" cy="196.9" r="0.48" fill="#949494" opacity="0.55"/>
<circle cx="925.7" cy="208.3" r="0.59" fill="#9c9c9c" opacity="0.46"/>
<circle cx="882.1" cy="215.2" r="0.57" fill="#888888" opacity="0.47"/>
<circle cx="936.4" cy="198.6" r="0.87" fill="#7c7c7c" opacity="0.89"/>
<circle cx="872.5" cy="204.8" r="0.70" fill="#6c6c6c" opacity="0.65"/>
<circle cx="907.0" cy="196.8" r="0.45" fill="#898989" opacity="0.69"/>
<circle cx="871.4" cy="201.3" r="0.84" fill="#999999" opacity="0.85"/>
<circle cx="888.3" cy="203.7" r="0.87" fill="#9d9d9d" opacity="0.81"/>
<circle cx="864.8" cy="213.2" r="0.94" fill="#7d7d7d" opacity="0.83"/>
<circle cx="959.6" cy="218.6" r="0.71" fill="#696969" opacity="0.64"/>
<circle cx="923.3" cy="172.9" r="0.55" fill="#787878" opacity="0.70"/>
<circle cx="855.5" cy="212.0" r="0.93" fill="#a1a1a1" opacity="0.65"/>
<circle cx="885.8" cy="209.2" r="0.69" fill="#7c7c7c" opacity="0.90"/>
<circle cx="902.8" cy="219.3" r="0.50" fill="#777777" opacity="0.46"/>
<circle cx="995.6" cy="212.1" r="0.58" fill="#787878" opacity="0.84"/>
<circle cx="886.9" cy="197.2" r="0.63" fill="#5f5f5f" opacity="0.65"/>
<circle cx="883.0" cy="209.6" r="0.67" fill="#959595" opacity="0.46"/>
<circle cx="894.3" cy="183.9" r="0.83" fill="#818181" opacity="0.80"/>
<circle cx="904.7" cy="178.6" r="0.50" fill="#8c8c8c" opacity="0.63"/>
<circle cx="948.8" cy="219.3" r="0.80" fill="#666666" opacity="0.49"/>
</g>
<!-- battery -->
<path d="M889.5,469 L916,481 L917,541 L889.5,522Z" stroke="#333" stroke-width="1.5" fill="#fff" stroke-linejoin="round"/>
<path d="M916,481 L969,469 L968.5,527 L917,541Z" stroke="#333" stroke-width="1.5" fill="#fff" stroke-linejoin="round"/>
<path d="M889.5,469 L940,459 L969,469 L916,481Z" stroke="#333" stroke-width="1.5" fill="#fff" stroke-linejoin="round"/>
<path d="M891,473 L916,485 L967.5,473" stroke="#333" stroke-width="1" fill="none"/>
<rect x="900.5" y="460" width="7" height="8" rx="1.5" stroke="#333" stroke-width="1.5" fill="#fff" stroke-linejoin="round"/>
<rect x="951" y="460" width="6.5" height="9" rx="1.5" stroke="#333" stroke-width="1.5" fill="#fff" stroke-linejoin="round"/>
<path d="M914,469 l6,0 l-0.5,4 l-5,0Z" stroke="#333" stroke-width="1.5" fill="#fff" stroke-linejoin="round"/>
<path d="M928,466 l6,0 l-0.5,4 l-5,0Z" stroke="#333" stroke-width="1.5" fill="#fff" stroke-linejoin="round"/>
<path d="M941,464 l6,0 l-0.5,4 l-5,0Z" stroke="#333" stroke-width="1.5" fill="#fff" stroke-linejoin="round"/>
<path d="M921.5,496 L961.6,487 L962.4,517.6 L922.3,528Z" stroke="#333" stroke-width="2.2" fill="#fff"/>
<path d="M924.5,498.5 L959,491 L959.6,515.5 L925,524.5Z" stroke="#555" stroke-width="1" fill="none"/>
<path d="M945,498.5 L939,509 L944,508.5 L941,517 L950,505.5 L945,506 L948,498.5Z" fill="#8aa82e"/>

<!-- big numbered circles -->
<g fill="#fff" stroke="#c32a3a" stroke-width="4">
 <circle cx="273.8" cy="135.5" r="19"/>
 <circle cx="254" cy="444.5" r="19"/>
 <circle cx="852.7" cy="142.2" r="19"/>
 <circle cx="852.7" cy="446" r="19"/>
</g>
<g fill="#c32a3a" font-family="Liberation Sans" font-weight="bold" font-size="28" text-anchor="middle">
 <text x="273.6" y="145.8">2</text>
 <text x="852.5" y="457.2">4</text>
</g>
<g fill="none" stroke="#c32a3a" stroke-width="3.1">
 <path d="M254.8,436.5 V454 M247.5,453.8 H261.5 M255.5,437 L248.5,441.5" stroke-linejoin="miter"/>
 <path d="M846,134.8 H858.3 L851.2,142.3 C855.5,142 859.3,144 859.3,147.6 C859.3,151.5 856,153.3 852.3,153.3 C849.5,153.3 847,152.4 845.3,151" stroke-linejoin="round"/>
</g>
</svg>

<div id="title">Nickel extraction from plants</div>
<div class="t" style="left:304px;top:123px;"><span style="letter-spacing:0.81px">Nickel is transported</span><br><span style="letter-spacing:0.73px">to the shoots.</span></div>
<div class="t" style="left:284px;top:432.5px;"><span style="letter-spacing:0.69px">Plant roots absorb nickel</span><br><span style="letter-spacing:0.69px">from the soil.</span></div>
<div class="t" style="right:212px;top:201.5px;text-align:right;"><span style="letter-spacing:0.56px">Plants are dried and</span><br><span style="letter-spacing:0.61px">incinerated, becoming an</span><br><span style="letter-spacing:0.6px">ashy nickel concentrate.</span></div>
<div class="t" style="left:591px;top:452.5px;"><span style="letter-spacing:0.5px">This concentrate can be</span><br><span style="letter-spacing:0.88px">further purified and turned</span><br><span style="letter-spacing:0.8px">into battery–grade material.</span></div>
<div class="t" style="left:243px;top:308.7px;letter-spacing:0.9px;">Nickel</div>
<div id="src"><span style="letter-spacing:0.67px">Sources: Metalplant; Om Parkash Dhankher; WSJ reporting</span><br><span style="letter-spacing:1.3px">Ming Li/WSJ</span></div>
</body></html>
